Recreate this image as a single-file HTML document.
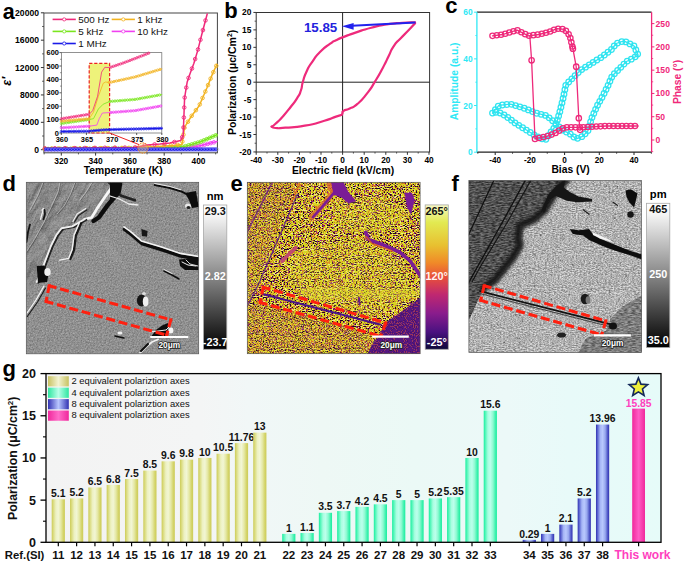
<!DOCTYPE html>
<html><head><meta charset="utf-8"><style>
html,body{margin:0;padding:0;background:#fff;}
body{width:685px;height:563px;overflow:hidden;position:relative;}
svg{position:absolute;left:0;top:0;font-family:"Liberation Sans", sans-serif;}
text{font-family:"Liberation Sans", sans-serif;}
</style></head><body>
<svg width="685" height="563" viewBox="0 0 685 563" font-family="Liberation Sans, sans-serif">

<defs>
<linearGradient id="gOl" x1="0" x2="1"><stop offset="0" stop-color="#cccb58"/><stop offset="0.12" stop-color="#dadb7e"/><stop offset="0.32" stop-color="#edf1c2"/><stop offset="0.5" stop-color="#f2f6d4"/><stop offset="0.7" stop-color="#e5e8a6"/><stop offset="0.88" stop-color="#d4d46a"/><stop offset="1" stop-color="#cccb58"/></linearGradient>
<linearGradient id="gMi" x1="0" x2="1"><stop offset="0" stop-color="#18ee9e"/><stop offset="0.12" stop-color="#50f6b8"/><stop offset="0.32" stop-color="#a8fee0"/><stop offset="0.5" stop-color="#bcffec"/><stop offset="0.7" stop-color="#90fad2"/><stop offset="0.88" stop-color="#40f2b0"/><stop offset="1" stop-color="#18ee9e"/></linearGradient>
<linearGradient id="gBl" x1="0" x2="1"><stop offset="0" stop-color="#3030b0"/><stop offset="0.12" stop-color="#5a64d0"/><stop offset="0.32" stop-color="#a6b6f6"/><stop offset="0.5" stop-color="#b8c8fe"/><stop offset="0.7" stop-color="#98a8ee"/><stop offset="0.88" stop-color="#5058c8"/><stop offset="1" stop-color="#3030b0"/></linearGradient>
<linearGradient id="gPk" x1="0" x2="1"><stop offset="0" stop-color="#f0289c"/><stop offset="0.5" stop-color="#ff5cc4"/><stop offset="1" stop-color="#f0289c"/></linearGradient>
<linearGradient id="gOlL" x1="0" x2="1"><stop offset="0" stop-color="#c8c262"/><stop offset="0.5" stop-color="#f3f3d2"/><stop offset="1" stop-color="#c8c262"/></linearGradient>
<linearGradient id="gMiL" x1="0" x2="1"><stop offset="0" stop-color="#2ee6a0"/><stop offset="0.5" stop-color="#b8ffe8"/><stop offset="1" stop-color="#2ee6a0"/></linearGradient>
<linearGradient id="gBlL" x1="0" x2="1"><stop offset="0" stop-color="#3232b2"/><stop offset="0.5" stop-color="#b8c6ff"/><stop offset="1" stop-color="#3232b2"/></linearGradient>
<linearGradient id="gPkL" x1="0" x2="1"><stop offset="0" stop-color="#f0289c"/><stop offset="0.5" stop-color="#ff6cc8"/><stop offset="1" stop-color="#f0289c"/></linearGradient>
<linearGradient id="gbg" gradientUnits="userSpaceOnUse" x1="46" x2="661" y1="0" y2="0"><stop offset="0" stop-color="#f3f3f3"/><stop offset="0.25" stop-color="#f4f5f5"/><stop offset="0.33" stop-color="#f1f7f7"/><stop offset="0.45" stop-color="#eef8f5"/><stop offset="0.6" stop-color="#ebf9f6"/><stop offset="0.75" stop-color="#ecf9f8"/><stop offset="0.85" stop-color="#e8faf9"/><stop offset="1" stop-color="#e6fbf9"/></linearGradient>
<filter id="relief" x="0" y="0" width="100%" height="100%" color-interpolation-filters="sRGB">
 <feTurbulence type="fractalNoise" baseFrequency="0.75" numOctaves="2" seed="7" result="t"/>
 <feColorMatrix type="matrix" values="0 0 0 0 0  0 0 0 0 0  0 0 0 0 0  0 0 0 0 1" result="blk"/>
 <feDiffuseLighting in="t" surfaceScale="0.9" diffuseConstant="1" lighting-color="#fff" result="l"><feDistantLight azimuth="225" elevation="60"/></feDiffuseLighting>
 <feColorMatrix in="t" type="matrix" values="1 0 0 0 0  1 0 0 0 0  1 0 0 0 0  0 0 0 0 1" result="g"/>
 <feComposite in="l" in2="g" operator="arithmetic" k1="0" k2="0.55" k3="0.38" k4="0.07"/>
 <feComponentTransfer><feFuncR type="linear" slope="0.77" intercept="0"/><feFuncG type="linear" slope="0.77" intercept="0"/><feFuncB type="linear" slope="0.77" intercept="0"/><feFuncA type="linear" slope="0" intercept="1"/></feComponentTransfer>
</filter>
<filter id="relief2" x="0" y="0" width="100%" height="100%" color-interpolation-filters="sRGB">
 <feTurbulence type="fractalNoise" baseFrequency="0.04 0.16" numOctaves="5" seed="11" result="t"/>
 <feDiffuseLighting in="t" surfaceScale="5" diffuseConstant="1" lighting-color="#fff"><feDistantLight azimuth="160" elevation="50"/></feDiffuseLighting>
 <feComponentTransfer><feFuncR type="linear" slope="0.72" intercept="0.0"/><feFuncG type="linear" slope="0.72" intercept="0.0"/><feFuncB type="linear" slope="0.72" intercept="0.0"/></feComponentTransfer>
</filter>
<filter id="speck" x="0" y="0" width="100%" height="100%" color-interpolation-filters="sRGB">
 <feTurbulence type="fractalNoise" baseFrequency="0.62 1.13" numOctaves="1" seed="2" result="t"/>
 <feColorMatrix type="matrix" values="3 0 0 0 -1  3 0 0 0 -1  3 0 0 0 -1  0 0 0 0 1"/>
 <feComponentTransfer>
  <feFuncR type="discrete" tableValues="0.12 0.45 0.55 0.86 0.7 0.84 0.85 0.86 0.88 0.95"/>
  <feFuncG type="discrete" tableValues="0.02 0.1 0.16 0.45 0.6 0.82 0.84 0.85 0.87 0.92"/>
  <feFuncB type="discrete" tableValues="0.15 0.2 0.5 0.15 0.12 0.12 0.12 0.14 0.22 0.55"/>
 </feComponentTransfer>
</filter>
<filter id="speck3" x="0" y="0" width="100%" height="100%" color-interpolation-filters="sRGB">
 <feTurbulence type="fractalNoise" baseFrequency="0.71 1.07" numOctaves="1" seed="21" result="t"/>
 <feColorMatrix type="matrix" values="3 0 0 0 -1  3 0 0 0 -1  3 0 0 0 -1  0 0 0 0 1"/>
 <feComponentTransfer>
  <feFuncR type="discrete" tableValues="0.1 0.4 0.55 0.9 0.88 0.85 0.86 0.9"/>
  <feFuncG type="discrete" tableValues="0.02 0.08 0.15 0.5 0.7 0.84 0.85 0.9"/>
  <feFuncB type="discrete" tableValues="0.12 0.25 0.5 0.15 0.12 0.12 0.14 0.4"/>
 </feComponentTransfer>
</filter>
<filter id="blur2" x="-20%" y="-20%" width="140%" height="140%"><feGaussianBlur stdDeviation="1.8"/></filter>
<filter id="blur05" x="-5%" y="-5%" width="110%" height="110%"><feGaussianBlur stdDeviation="0.45"/></filter>
<filter id="blur1" x="-20%" y="-20%" width="140%" height="140%"><feGaussianBlur stdDeviation="0.7"/></filter>
<filter id="speck2" x="0" y="0" width="100%" height="100%" color-interpolation-filters="sRGB">
 <feTurbulence type="fractalNoise" baseFrequency="0.9" numOctaves="1" seed="9" result="t"/>
 <feColorMatrix type="matrix" values="3 0 0 0 -1  3 0 0 0 -1  3 0 0 0 -1  0 0 0 0 1"/>
 <feComponentTransfer>
  <feFuncR type="discrete" tableValues="0.2 0.3 0.35 0.9"/>
  <feFuncG type="discrete" tableValues="0.05 0.08 0.1 0.35"/>
  <feFuncB type="discrete" tableValues="0.35 0.5 0.5 0.2"/>
 </feComponentTransfer>
</filter>
<filter id="grain2" x="0" y="0" width="100%" height="100%" color-interpolation-filters="sRGB">
 <feTurbulence type="fractalNoise" baseFrequency="0.55 0.95" numOctaves="2" seed="15" result="t"/>
 <feColorMatrix type="matrix" values="2 0 0 0 -0.5  2 0 0 0 -0.5  2 0 0 0 -0.5  0 0 0 0 1"/>
</filter>
<filter id="grain" x="0" y="0" width="100%" height="100%" color-interpolation-filters="sRGB">
 <feTurbulence type="fractalNoise" baseFrequency="0.25 0.9" numOctaves="2" seed="5" result="t"/>
 <feColorMatrix type="matrix" values="2 0 0 0 -0.5  2 0 0 0 -0.5  2 0 0 0 -0.5  0 0 0 0 1"/>
</filter>
<linearGradient id="cbD" x1="0" x2="0" y1="0" y2="1"><stop offset="0" stop-color="#fff"/><stop offset="0.08" stop-color="#f4f4f4"/><stop offset="0.5" stop-color="#868686"/><stop offset="1" stop-color="#000"/></linearGradient>
<linearGradient id="cbF" x1="0" x2="0" y1="0" y2="1"><stop offset="0" stop-color="#fff"/><stop offset="0.08" stop-color="#f4f4f4"/><stop offset="0.5" stop-color="#868686"/><stop offset="1" stop-color="#000"/></linearGradient>
<linearGradient id="cbE" x1="0" x2="0" y1="0" y2="1"><stop offset="0" stop-color="#f6f8c4"/><stop offset="0.12" stop-color="#e2ea52"/><stop offset="0.28" stop-color="#e8c030"/><stop offset="0.4" stop-color="#f08a28"/><stop offset="0.5" stop-color="#e8503a"/><stop offset="0.62" stop-color="#c02870"/><stop offset="0.75" stop-color="#8a1c8c"/><stop offset="0.88" stop-color="#4a1280"/><stop offset="1" stop-color="#0c0838"/></linearGradient>
</defs>

<rect x="43.9" y="13.0" width="173.5" height="139.8" fill="#fff" stroke="#444" stroke-width="1"/>
<line x1="40.90" y1="149.70" x2="43.90" y2="149.70" stroke="#333" stroke-width="1" />
<text x="39.00" y="152.70" font-size="8.6" text-anchor="end" font-weight="bold" fill="#000" >0</text>
<line x1="40.90" y1="122.32" x2="43.90" y2="122.32" stroke="#333" stroke-width="1" />
<text x="39.00" y="125.32" font-size="8.6" text-anchor="end" font-weight="bold" fill="#000" >4000</text>
<line x1="40.90" y1="94.94" x2="43.90" y2="94.94" stroke="#333" stroke-width="1" />
<text x="39.00" y="97.94" font-size="8.6" text-anchor="end" font-weight="bold" fill="#000" >8000</text>
<line x1="40.90" y1="67.56" x2="43.90" y2="67.56" stroke="#333" stroke-width="1" />
<text x="39.00" y="70.56" font-size="8.6" text-anchor="end" font-weight="bold" fill="#000" >12000</text>
<line x1="40.90" y1="40.18" x2="43.90" y2="40.18" stroke="#333" stroke-width="1" />
<text x="39.00" y="43.18" font-size="8.6" text-anchor="end" font-weight="bold" fill="#000" >16000</text>
<line x1="40.90" y1="12.80" x2="43.90" y2="12.80" stroke="#333" stroke-width="1" />
<text x="39.00" y="15.80" font-size="8.6" text-anchor="end" font-weight="bold" fill="#000" >20000</text>
<line x1="42.10" y1="136.01" x2="43.90" y2="136.01" stroke="#333" stroke-width="0.8" />
<line x1="42.10" y1="108.63" x2="43.90" y2="108.63" stroke="#333" stroke-width="0.8" />
<line x1="42.10" y1="81.25" x2="43.90" y2="81.25" stroke="#333" stroke-width="0.8" />
<line x1="42.10" y1="53.87" x2="43.90" y2="53.87" stroke="#333" stroke-width="0.8" />
<line x1="42.10" y1="26.49" x2="43.90" y2="26.49" stroke="#333" stroke-width="0.8" />
<line x1="61.30" y1="152.80" x2="61.30" y2="155.60" stroke="#333" stroke-width="1" />
<text x="61.30" y="164.00" font-size="8.4" text-anchor="middle" font-weight="bold" fill="#000" >320</text>
<line x1="95.60" y1="152.80" x2="95.60" y2="155.60" stroke="#333" stroke-width="1" />
<text x="95.60" y="164.00" font-size="8.4" text-anchor="middle" font-weight="bold" fill="#000" >340</text>
<line x1="129.90" y1="152.80" x2="129.90" y2="155.60" stroke="#333" stroke-width="1" />
<text x="129.90" y="164.00" font-size="8.4" text-anchor="middle" font-weight="bold" fill="#000" >360</text>
<line x1="164.20" y1="152.80" x2="164.20" y2="155.60" stroke="#333" stroke-width="1" />
<text x="164.20" y="164.00" font-size="8.4" text-anchor="middle" font-weight="bold" fill="#000" >380</text>
<line x1="198.50" y1="152.80" x2="198.50" y2="155.60" stroke="#333" stroke-width="1" />
<text x="198.50" y="164.00" font-size="8.4" text-anchor="middle" font-weight="bold" fill="#000" >400</text>
<line x1="44.15" y1="152.80" x2="44.15" y2="154.40" stroke="#333" stroke-width="0.8" />
<line x1="78.45" y1="152.80" x2="78.45" y2="154.40" stroke="#333" stroke-width="0.8" />
<line x1="112.75" y1="152.80" x2="112.75" y2="154.40" stroke="#333" stroke-width="0.8" />
<line x1="147.05" y1="152.80" x2="147.05" y2="154.40" stroke="#333" stroke-width="0.8" />
<line x1="181.35" y1="152.80" x2="181.35" y2="154.40" stroke="#333" stroke-width="0.8" />
<line x1="215.65" y1="152.80" x2="215.65" y2="154.40" stroke="#333" stroke-width="0.8" />
<text x="123.20" y="173.80" font-size="10.3" text-anchor="middle" font-weight="bold" fill="#000" >Temperature (K)</text>
<text transform="translate(11.20,81.30) rotate(-90)" font-size="12.5" font-weight="bold" text-anchor="middle" fill="#000" font-style="italic">ε′</text>
<polyline points="44.90,149.20 150.00,148.80 185.00,148.00 200.00,145.80 216.90,141.60" fill="none" stroke="#f040f0" stroke-width="1.5" stroke-linejoin="round" stroke-linecap="round" />
<circle cx="44.90" cy="149.20" r="1.8" fill="none" stroke="#f040f0" stroke-width="0.9"/>
<circle cx="48.10" cy="149.19" r="1.8" fill="none" stroke="#f040f0" stroke-width="0.9"/>
<circle cx="51.30" cy="149.18" r="1.8" fill="none" stroke="#f040f0" stroke-width="0.9"/>
<circle cx="54.50" cy="149.16" r="1.8" fill="none" stroke="#f040f0" stroke-width="0.9"/>
<circle cx="57.70" cy="149.15" r="1.8" fill="none" stroke="#f040f0" stroke-width="0.9"/>
<circle cx="60.90" cy="149.14" r="1.8" fill="none" stroke="#f040f0" stroke-width="0.9"/>
<circle cx="64.10" cy="149.13" r="1.8" fill="none" stroke="#f040f0" stroke-width="0.9"/>
<circle cx="67.30" cy="149.11" r="1.8" fill="none" stroke="#f040f0" stroke-width="0.9"/>
<circle cx="70.50" cy="149.10" r="1.8" fill="none" stroke="#f040f0" stroke-width="0.9"/>
<circle cx="73.70" cy="149.09" r="1.8" fill="none" stroke="#f040f0" stroke-width="0.9"/>
<circle cx="76.90" cy="149.08" r="1.8" fill="none" stroke="#f040f0" stroke-width="0.9"/>
<circle cx="80.10" cy="149.07" r="1.8" fill="none" stroke="#f040f0" stroke-width="0.9"/>
<circle cx="83.30" cy="149.05" r="1.8" fill="none" stroke="#f040f0" stroke-width="0.9"/>
<circle cx="86.50" cy="149.04" r="1.8" fill="none" stroke="#f040f0" stroke-width="0.9"/>
<circle cx="89.70" cy="149.03" r="1.8" fill="none" stroke="#f040f0" stroke-width="0.9"/>
<circle cx="92.90" cy="149.02" r="1.8" fill="none" stroke="#f040f0" stroke-width="0.9"/>
<circle cx="96.10" cy="149.01" r="1.8" fill="none" stroke="#f040f0" stroke-width="0.9"/>
<circle cx="99.30" cy="148.99" r="1.8" fill="none" stroke="#f040f0" stroke-width="0.9"/>
<circle cx="102.50" cy="148.98" r="1.8" fill="none" stroke="#f040f0" stroke-width="0.9"/>
<circle cx="105.70" cy="148.97" r="1.8" fill="none" stroke="#f040f0" stroke-width="0.9"/>
<circle cx="108.90" cy="148.96" r="1.8" fill="none" stroke="#f040f0" stroke-width="0.9"/>
<circle cx="112.10" cy="148.94" r="1.8" fill="none" stroke="#f040f0" stroke-width="0.9"/>
<circle cx="115.30" cy="148.93" r="1.8" fill="none" stroke="#f040f0" stroke-width="0.9"/>
<circle cx="118.50" cy="148.92" r="1.8" fill="none" stroke="#f040f0" stroke-width="0.9"/>
<circle cx="121.70" cy="148.91" r="1.8" fill="none" stroke="#f040f0" stroke-width="0.9"/>
<circle cx="124.90" cy="148.90" r="1.8" fill="none" stroke="#f040f0" stroke-width="0.9"/>
<circle cx="128.10" cy="148.88" r="1.8" fill="none" stroke="#f040f0" stroke-width="0.9"/>
<circle cx="131.30" cy="148.87" r="1.8" fill="none" stroke="#f040f0" stroke-width="0.9"/>
<circle cx="134.50" cy="148.86" r="1.8" fill="none" stroke="#f040f0" stroke-width="0.9"/>
<circle cx="137.70" cy="148.85" r="1.8" fill="none" stroke="#f040f0" stroke-width="0.9"/>
<circle cx="140.90" cy="148.83" r="1.8" fill="none" stroke="#f040f0" stroke-width="0.9"/>
<circle cx="144.10" cy="148.82" r="1.8" fill="none" stroke="#f040f0" stroke-width="0.9"/>
<circle cx="147.30" cy="148.81" r="1.8" fill="none" stroke="#f040f0" stroke-width="0.9"/>
<circle cx="150.50" cy="148.79" r="1.8" fill="none" stroke="#f040f0" stroke-width="0.9"/>
<circle cx="153.70" cy="148.72" r="1.8" fill="none" stroke="#f040f0" stroke-width="0.9"/>
<circle cx="156.90" cy="148.64" r="1.8" fill="none" stroke="#f040f0" stroke-width="0.9"/>
<circle cx="160.10" cy="148.57" r="1.8" fill="none" stroke="#f040f0" stroke-width="0.9"/>
<circle cx="163.30" cy="148.50" r="1.8" fill="none" stroke="#f040f0" stroke-width="0.9"/>
<circle cx="166.49" cy="148.42" r="1.8" fill="none" stroke="#f040f0" stroke-width="0.9"/>
<circle cx="169.69" cy="148.35" r="1.8" fill="none" stroke="#f040f0" stroke-width="0.9"/>
<circle cx="172.89" cy="148.28" r="1.8" fill="none" stroke="#f040f0" stroke-width="0.9"/>
<circle cx="176.09" cy="148.20" r="1.8" fill="none" stroke="#f040f0" stroke-width="0.9"/>
<circle cx="179.29" cy="148.13" r="1.8" fill="none" stroke="#f040f0" stroke-width="0.9"/>
<circle cx="182.49" cy="148.06" r="1.8" fill="none" stroke="#f040f0" stroke-width="0.9"/>
<circle cx="185.68" cy="147.90" r="1.8" fill="none" stroke="#f040f0" stroke-width="0.9"/>
<circle cx="188.85" cy="147.44" r="1.8" fill="none" stroke="#f040f0" stroke-width="0.9"/>
<circle cx="192.02" cy="146.97" r="1.8" fill="none" stroke="#f040f0" stroke-width="0.9"/>
<circle cx="195.18" cy="146.51" r="1.8" fill="none" stroke="#f040f0" stroke-width="0.9"/>
<circle cx="198.35" cy="146.04" r="1.8" fill="none" stroke="#f040f0" stroke-width="0.9"/>
<circle cx="201.48" cy="145.43" r="1.8" fill="none" stroke="#f040f0" stroke-width="0.9"/>
<circle cx="204.59" cy="144.66" r="1.8" fill="none" stroke="#f040f0" stroke-width="0.9"/>
<circle cx="207.70" cy="143.89" r="1.8" fill="none" stroke="#f040f0" stroke-width="0.9"/>
<circle cx="210.80" cy="143.12" r="1.8" fill="none" stroke="#f040f0" stroke-width="0.9"/>
<circle cx="213.91" cy="142.34" r="1.8" fill="none" stroke="#f040f0" stroke-width="0.9"/>
<polyline points="44.90,149.00 150.00,148.50 184.00,146.60 200.00,142.00 216.90,134.80" fill="none" stroke="#7ae61e" stroke-width="1.5" stroke-linejoin="round" stroke-linecap="round" />
<circle cx="44.90" cy="149.00" r="1.8" fill="none" stroke="#7ae61e" stroke-width="0.9"/>
<circle cx="48.10" cy="148.98" r="1.8" fill="none" stroke="#7ae61e" stroke-width="0.9"/>
<circle cx="51.30" cy="148.97" r="1.8" fill="none" stroke="#7ae61e" stroke-width="0.9"/>
<circle cx="54.50" cy="148.95" r="1.8" fill="none" stroke="#7ae61e" stroke-width="0.9"/>
<circle cx="57.70" cy="148.94" r="1.8" fill="none" stroke="#7ae61e" stroke-width="0.9"/>
<circle cx="60.90" cy="148.92" r="1.8" fill="none" stroke="#7ae61e" stroke-width="0.9"/>
<circle cx="64.10" cy="148.91" r="1.8" fill="none" stroke="#7ae61e" stroke-width="0.9"/>
<circle cx="67.30" cy="148.89" r="1.8" fill="none" stroke="#7ae61e" stroke-width="0.9"/>
<circle cx="70.50" cy="148.88" r="1.8" fill="none" stroke="#7ae61e" stroke-width="0.9"/>
<circle cx="73.70" cy="148.86" r="1.8" fill="none" stroke="#7ae61e" stroke-width="0.9"/>
<circle cx="76.90" cy="148.85" r="1.8" fill="none" stroke="#7ae61e" stroke-width="0.9"/>
<circle cx="80.10" cy="148.83" r="1.8" fill="none" stroke="#7ae61e" stroke-width="0.9"/>
<circle cx="83.30" cy="148.82" r="1.8" fill="none" stroke="#7ae61e" stroke-width="0.9"/>
<circle cx="86.50" cy="148.80" r="1.8" fill="none" stroke="#7ae61e" stroke-width="0.9"/>
<circle cx="89.70" cy="148.79" r="1.8" fill="none" stroke="#7ae61e" stroke-width="0.9"/>
<circle cx="92.90" cy="148.77" r="1.8" fill="none" stroke="#7ae61e" stroke-width="0.9"/>
<circle cx="96.10" cy="148.76" r="1.8" fill="none" stroke="#7ae61e" stroke-width="0.9"/>
<circle cx="99.30" cy="148.74" r="1.8" fill="none" stroke="#7ae61e" stroke-width="0.9"/>
<circle cx="102.50" cy="148.73" r="1.8" fill="none" stroke="#7ae61e" stroke-width="0.9"/>
<circle cx="105.70" cy="148.71" r="1.8" fill="none" stroke="#7ae61e" stroke-width="0.9"/>
<circle cx="108.90" cy="148.70" r="1.8" fill="none" stroke="#7ae61e" stroke-width="0.9"/>
<circle cx="112.10" cy="148.68" r="1.8" fill="none" stroke="#7ae61e" stroke-width="0.9"/>
<circle cx="115.30" cy="148.67" r="1.8" fill="none" stroke="#7ae61e" stroke-width="0.9"/>
<circle cx="118.50" cy="148.65" r="1.8" fill="none" stroke="#7ae61e" stroke-width="0.9"/>
<circle cx="121.70" cy="148.63" r="1.8" fill="none" stroke="#7ae61e" stroke-width="0.9"/>
<circle cx="124.90" cy="148.62" r="1.8" fill="none" stroke="#7ae61e" stroke-width="0.9"/>
<circle cx="128.10" cy="148.60" r="1.8" fill="none" stroke="#7ae61e" stroke-width="0.9"/>
<circle cx="131.30" cy="148.59" r="1.8" fill="none" stroke="#7ae61e" stroke-width="0.9"/>
<circle cx="134.50" cy="148.57" r="1.8" fill="none" stroke="#7ae61e" stroke-width="0.9"/>
<circle cx="137.70" cy="148.56" r="1.8" fill="none" stroke="#7ae61e" stroke-width="0.9"/>
<circle cx="140.90" cy="148.54" r="1.8" fill="none" stroke="#7ae61e" stroke-width="0.9"/>
<circle cx="144.10" cy="148.53" r="1.8" fill="none" stroke="#7ae61e" stroke-width="0.9"/>
<circle cx="147.30" cy="148.51" r="1.8" fill="none" stroke="#7ae61e" stroke-width="0.9"/>
<circle cx="150.50" cy="148.47" r="1.8" fill="none" stroke="#7ae61e" stroke-width="0.9"/>
<circle cx="153.69" cy="148.29" r="1.8" fill="none" stroke="#7ae61e" stroke-width="0.9"/>
<circle cx="156.89" cy="148.12" r="1.8" fill="none" stroke="#7ae61e" stroke-width="0.9"/>
<circle cx="160.08" cy="147.94" r="1.8" fill="none" stroke="#7ae61e" stroke-width="0.9"/>
<circle cx="163.28" cy="147.76" r="1.8" fill="none" stroke="#7ae61e" stroke-width="0.9"/>
<circle cx="166.47" cy="147.58" r="1.8" fill="none" stroke="#7ae61e" stroke-width="0.9"/>
<circle cx="169.67" cy="147.40" r="1.8" fill="none" stroke="#7ae61e" stroke-width="0.9"/>
<circle cx="172.86" cy="147.22" r="1.8" fill="none" stroke="#7ae61e" stroke-width="0.9"/>
<circle cx="176.06" cy="147.04" r="1.8" fill="none" stroke="#7ae61e" stroke-width="0.9"/>
<circle cx="179.25" cy="146.87" r="1.8" fill="none" stroke="#7ae61e" stroke-width="0.9"/>
<circle cx="182.45" cy="146.69" r="1.8" fill="none" stroke="#7ae61e" stroke-width="0.9"/>
<circle cx="185.58" cy="146.15" r="1.8" fill="none" stroke="#7ae61e" stroke-width="0.9"/>
<circle cx="188.66" cy="145.26" r="1.8" fill="none" stroke="#7ae61e" stroke-width="0.9"/>
<circle cx="191.73" cy="144.38" r="1.8" fill="none" stroke="#7ae61e" stroke-width="0.9"/>
<circle cx="194.81" cy="143.49" r="1.8" fill="none" stroke="#7ae61e" stroke-width="0.9"/>
<circle cx="197.88" cy="142.61" r="1.8" fill="none" stroke="#7ae61e" stroke-width="0.9"/>
<circle cx="200.92" cy="141.61" r="1.8" fill="none" stroke="#7ae61e" stroke-width="0.9"/>
<circle cx="203.86" cy="140.35" r="1.8" fill="none" stroke="#7ae61e" stroke-width="0.9"/>
<circle cx="206.81" cy="139.10" r="1.8" fill="none" stroke="#7ae61e" stroke-width="0.9"/>
<circle cx="209.75" cy="137.85" r="1.8" fill="none" stroke="#7ae61e" stroke-width="0.9"/>
<circle cx="212.69" cy="136.59" r="1.8" fill="none" stroke="#7ae61e" stroke-width="0.9"/>
<circle cx="215.64" cy="135.34" r="1.8" fill="none" stroke="#7ae61e" stroke-width="0.9"/>
<polyline points="44.90,148.60 140.00,147.80 160.00,146.40 175.00,145.20 181.90,144.40 184.60,127.10 191.20,116.50 199.20,105.80 207.20,87.20 212.50,73.90 216.90,64.50" fill="none" stroke="#f2b320" stroke-width="1.5" stroke-linejoin="round" stroke-linecap="round" />
<circle cx="44.90" cy="148.60" r="1.8" fill="none" stroke="#f2b320" stroke-width="0.9"/>
<circle cx="51.90" cy="148.54" r="1.8" fill="none" stroke="#f2b320" stroke-width="0.9"/>
<circle cx="58.90" cy="148.48" r="1.8" fill="none" stroke="#f2b320" stroke-width="0.9"/>
<circle cx="65.90" cy="148.42" r="1.8" fill="none" stroke="#f2b320" stroke-width="0.9"/>
<circle cx="72.90" cy="148.36" r="1.8" fill="none" stroke="#f2b320" stroke-width="0.9"/>
<circle cx="79.90" cy="148.31" r="1.8" fill="none" stroke="#f2b320" stroke-width="0.9"/>
<circle cx="86.90" cy="148.25" r="1.8" fill="none" stroke="#f2b320" stroke-width="0.9"/>
<circle cx="93.90" cy="148.19" r="1.8" fill="none" stroke="#f2b320" stroke-width="0.9"/>
<circle cx="100.90" cy="148.13" r="1.8" fill="none" stroke="#f2b320" stroke-width="0.9"/>
<circle cx="107.90" cy="148.07" r="1.8" fill="none" stroke="#f2b320" stroke-width="0.9"/>
<circle cx="114.90" cy="148.01" r="1.8" fill="none" stroke="#f2b320" stroke-width="0.9"/>
<circle cx="121.90" cy="147.95" r="1.8" fill="none" stroke="#f2b320" stroke-width="0.9"/>
<circle cx="128.90" cy="147.89" r="1.8" fill="none" stroke="#f2b320" stroke-width="0.9"/>
<circle cx="135.90" cy="147.83" r="1.8" fill="none" stroke="#f2b320" stroke-width="0.9"/>
<circle cx="142.89" cy="147.60" r="1.8" fill="none" stroke="#f2b320" stroke-width="0.9"/>
<circle cx="149.87" cy="147.11" r="1.8" fill="none" stroke="#f2b320" stroke-width="0.9"/>
<circle cx="156.86" cy="146.62" r="1.8" fill="none" stroke="#f2b320" stroke-width="0.9"/>
<circle cx="163.84" cy="146.09" r="1.8" fill="none" stroke="#f2b320" stroke-width="0.9"/>
<circle cx="170.81" cy="145.53" r="1.8" fill="none" stroke="#f2b320" stroke-width="0.9"/>
<circle cx="177.78" cy="144.88" r="1.8" fill="none" stroke="#f2b320" stroke-width="0.9"/>
<circle cx="182.34" cy="141.58" r="1.8" fill="none" stroke="#f2b320" stroke-width="0.9"/>
<circle cx="183.42" cy="134.66" r="1.8" fill="none" stroke="#f2b320" stroke-width="0.9"/>
<circle cx="184.50" cy="127.75" r="1.8" fill="none" stroke="#f2b320" stroke-width="0.9"/>
<circle cx="187.95" cy="121.71" r="1.8" fill="none" stroke="#f2b320" stroke-width="0.9"/>
<circle cx="191.71" cy="115.81" r="1.8" fill="none" stroke="#f2b320" stroke-width="0.9"/>
<circle cx="195.90" cy="110.21" r="1.8" fill="none" stroke="#f2b320" stroke-width="0.9"/>
<circle cx="199.79" cy="104.42" r="1.8" fill="none" stroke="#f2b320" stroke-width="0.9"/>
<circle cx="202.56" cy="97.99" r="1.8" fill="none" stroke="#f2b320" stroke-width="0.9"/>
<circle cx="205.32" cy="91.56" r="1.8" fill="none" stroke="#f2b320" stroke-width="0.9"/>
<circle cx="208.03" cy="85.11" r="1.8" fill="none" stroke="#f2b320" stroke-width="0.9"/>
<circle cx="210.62" cy="78.61" r="1.8" fill="none" stroke="#f2b320" stroke-width="0.9"/>
<circle cx="213.32" cy="72.15" r="1.8" fill="none" stroke="#f2b320" stroke-width="0.9"/>
<circle cx="216.29" cy="65.81" r="1.8" fill="none" stroke="#f2b320" stroke-width="0.9"/>
<polyline points="44.90,148.40 135.00,147.50 147.00,144.90 160.00,144.10 170.00,143.10 180.60,140.50 183.20,135.10 184.60,97.90 187.20,81.90 189.90,73.90 193.90,63.20 197.90,49.90 201.90,34.00 207.20,14.00" fill="none" stroke="#f0287a" stroke-width="1.5" stroke-linejoin="round" stroke-linecap="round" />
<circle cx="44.90" cy="148.40" r="1.8" fill="none" stroke="#f0287a" stroke-width="0.9"/>
<circle cx="54.90" cy="148.30" r="1.8" fill="none" stroke="#f0287a" stroke-width="0.9"/>
<circle cx="64.90" cy="148.20" r="1.8" fill="none" stroke="#f0287a" stroke-width="0.9"/>
<circle cx="74.90" cy="148.10" r="1.8" fill="none" stroke="#f0287a" stroke-width="0.9"/>
<circle cx="84.90" cy="148.00" r="1.8" fill="none" stroke="#f0287a" stroke-width="0.9"/>
<circle cx="94.90" cy="147.90" r="1.8" fill="none" stroke="#f0287a" stroke-width="0.9"/>
<circle cx="104.90" cy="147.80" r="1.8" fill="none" stroke="#f0287a" stroke-width="0.9"/>
<circle cx="114.90" cy="147.70" r="1.8" fill="none" stroke="#f0287a" stroke-width="0.9"/>
<circle cx="124.90" cy="147.60" r="1.8" fill="none" stroke="#f0287a" stroke-width="0.9"/>
<circle cx="134.90" cy="147.50" r="1.8" fill="none" stroke="#f0287a" stroke-width="0.9"/>
<circle cx="144.67" cy="145.40" r="1.8" fill="none" stroke="#f0287a" stroke-width="0.9"/>
<circle cx="154.60" cy="144.43" r="1.8" fill="none" stroke="#f0287a" stroke-width="0.9"/>
<circle cx="164.57" cy="143.64" r="1.8" fill="none" stroke="#f0287a" stroke-width="0.9"/>
<circle cx="174.41" cy="142.02" r="1.8" fill="none" stroke="#f0287a" stroke-width="0.9"/>
<circle cx="182.17" cy="137.23" r="1.8" fill="none" stroke="#f0287a" stroke-width="0.9"/>
<circle cx="183.49" cy="127.47" r="1.8" fill="none" stroke="#f0287a" stroke-width="0.9"/>
<circle cx="183.86" cy="117.48" r="1.8" fill="none" stroke="#f0287a" stroke-width="0.9"/>
<circle cx="184.24" cy="107.48" r="1.8" fill="none" stroke="#f0287a" stroke-width="0.9"/>
<circle cx="184.67" cy="97.50" r="1.8" fill="none" stroke="#f0287a" stroke-width="0.9"/>
<circle cx="186.27" cy="87.63" r="1.8" fill="none" stroke="#f0287a" stroke-width="0.9"/>
<circle cx="188.54" cy="77.92" r="1.8" fill="none" stroke="#f0287a" stroke-width="0.9"/>
<circle cx="191.92" cy="68.51" r="1.8" fill="none" stroke="#f0287a" stroke-width="0.9"/>
<circle cx="195.15" cy="59.05" r="1.8" fill="none" stroke="#f0287a" stroke-width="0.9"/>
<circle cx="198.01" cy="49.47" r="1.8" fill="none" stroke="#f0287a" stroke-width="0.9"/>
<circle cx="200.45" cy="39.77" r="1.8" fill="none" stroke="#f0287a" stroke-width="0.9"/>
<circle cx="202.94" cy="30.09" r="1.8" fill="none" stroke="#f0287a" stroke-width="0.9"/>
<circle cx="205.50" cy="20.42" r="1.8" fill="none" stroke="#f0287a" stroke-width="0.9"/>
<rect x="44.4" y="147.5" width="172.5" height="3.8" fill="#1a1ae8"/>
<circle cx="46.4" cy="149.4" r="1.3" fill="none" stroke="#a0a0ff" stroke-width="0.5"/>
<circle cx="49.4" cy="149.4" r="1.3" fill="none" stroke="#a0a0ff" stroke-width="0.5"/>
<circle cx="52.3" cy="149.4" r="1.3" fill="none" stroke="#a0a0ff" stroke-width="0.5"/>
<circle cx="55.2" cy="149.4" r="1.3" fill="none" stroke="#a0a0ff" stroke-width="0.5"/>
<circle cx="58.2" cy="149.4" r="1.3" fill="none" stroke="#a0a0ff" stroke-width="0.5"/>
<circle cx="61.1" cy="149.4" r="1.3" fill="none" stroke="#a0a0ff" stroke-width="0.5"/>
<circle cx="64.1" cy="149.4" r="1.3" fill="none" stroke="#a0a0ff" stroke-width="0.5"/>
<circle cx="67.0" cy="149.4" r="1.3" fill="none" stroke="#a0a0ff" stroke-width="0.5"/>
<circle cx="70.0" cy="149.4" r="1.3" fill="none" stroke="#a0a0ff" stroke-width="0.5"/>
<circle cx="73.0" cy="149.4" r="1.3" fill="none" stroke="#a0a0ff" stroke-width="0.5"/>
<circle cx="75.9" cy="149.4" r="1.3" fill="none" stroke="#a0a0ff" stroke-width="0.5"/>
<circle cx="78.8" cy="149.4" r="1.3" fill="none" stroke="#a0a0ff" stroke-width="0.5"/>
<circle cx="81.8" cy="149.4" r="1.3" fill="none" stroke="#a0a0ff" stroke-width="0.5"/>
<circle cx="84.8" cy="149.4" r="1.3" fill="none" stroke="#a0a0ff" stroke-width="0.5"/>
<circle cx="87.7" cy="149.4" r="1.3" fill="none" stroke="#a0a0ff" stroke-width="0.5"/>
<circle cx="90.7" cy="149.4" r="1.3" fill="none" stroke="#a0a0ff" stroke-width="0.5"/>
<circle cx="93.6" cy="149.4" r="1.3" fill="none" stroke="#a0a0ff" stroke-width="0.5"/>
<circle cx="96.6" cy="149.4" r="1.3" fill="none" stroke="#a0a0ff" stroke-width="0.5"/>
<circle cx="99.5" cy="149.4" r="1.3" fill="none" stroke="#a0a0ff" stroke-width="0.5"/>
<circle cx="102.5" cy="149.4" r="1.3" fill="none" stroke="#a0a0ff" stroke-width="0.5"/>
<circle cx="105.4" cy="149.4" r="1.3" fill="none" stroke="#a0a0ff" stroke-width="0.5"/>
<circle cx="108.3" cy="149.4" r="1.3" fill="none" stroke="#a0a0ff" stroke-width="0.5"/>
<circle cx="111.3" cy="149.4" r="1.3" fill="none" stroke="#a0a0ff" stroke-width="0.5"/>
<circle cx="114.2" cy="149.4" r="1.3" fill="none" stroke="#a0a0ff" stroke-width="0.5"/>
<circle cx="117.2" cy="149.4" r="1.3" fill="none" stroke="#a0a0ff" stroke-width="0.5"/>
<circle cx="120.2" cy="149.4" r="1.3" fill="none" stroke="#a0a0ff" stroke-width="0.5"/>
<circle cx="123.1" cy="149.4" r="1.3" fill="none" stroke="#a0a0ff" stroke-width="0.5"/>
<circle cx="126.1" cy="149.4" r="1.3" fill="none" stroke="#a0a0ff" stroke-width="0.5"/>
<circle cx="129.0" cy="149.4" r="1.3" fill="none" stroke="#a0a0ff" stroke-width="0.5"/>
<circle cx="132.0" cy="149.4" r="1.3" fill="none" stroke="#a0a0ff" stroke-width="0.5"/>
<circle cx="134.9" cy="149.4" r="1.3" fill="none" stroke="#a0a0ff" stroke-width="0.5"/>
<circle cx="137.8" cy="149.4" r="1.3" fill="none" stroke="#a0a0ff" stroke-width="0.5"/>
<circle cx="140.8" cy="149.4" r="1.3" fill="none" stroke="#a0a0ff" stroke-width="0.5"/>
<circle cx="143.8" cy="149.4" r="1.3" fill="none" stroke="#a0a0ff" stroke-width="0.5"/>
<circle cx="146.7" cy="149.4" r="1.3" fill="none" stroke="#a0a0ff" stroke-width="0.5"/>
<circle cx="149.7" cy="149.4" r="1.3" fill="none" stroke="#a0a0ff" stroke-width="0.5"/>
<circle cx="152.6" cy="149.4" r="1.3" fill="none" stroke="#a0a0ff" stroke-width="0.5"/>
<circle cx="155.6" cy="149.4" r="1.3" fill="none" stroke="#a0a0ff" stroke-width="0.5"/>
<circle cx="158.5" cy="149.4" r="1.3" fill="none" stroke="#a0a0ff" stroke-width="0.5"/>
<circle cx="161.5" cy="149.4" r="1.3" fill="none" stroke="#a0a0ff" stroke-width="0.5"/>
<circle cx="164.4" cy="149.4" r="1.3" fill="none" stroke="#a0a0ff" stroke-width="0.5"/>
<circle cx="167.3" cy="149.4" r="1.3" fill="none" stroke="#a0a0ff" stroke-width="0.5"/>
<circle cx="170.3" cy="149.4" r="1.3" fill="none" stroke="#a0a0ff" stroke-width="0.5"/>
<circle cx="173.2" cy="149.4" r="1.3" fill="none" stroke="#a0a0ff" stroke-width="0.5"/>
<circle cx="176.2" cy="149.4" r="1.3" fill="none" stroke="#a0a0ff" stroke-width="0.5"/>
<circle cx="179.2" cy="149.4" r="1.3" fill="none" stroke="#a0a0ff" stroke-width="0.5"/>
<circle cx="182.1" cy="149.4" r="1.3" fill="none" stroke="#a0a0ff" stroke-width="0.5"/>
<circle cx="185.1" cy="149.4" r="1.3" fill="none" stroke="#a0a0ff" stroke-width="0.5"/>
<circle cx="188.0" cy="149.4" r="1.3" fill="none" stroke="#a0a0ff" stroke-width="0.5"/>
<circle cx="191.0" cy="149.4" r="1.3" fill="none" stroke="#a0a0ff" stroke-width="0.5"/>
<circle cx="193.9" cy="149.4" r="1.3" fill="none" stroke="#a0a0ff" stroke-width="0.5"/>
<circle cx="196.9" cy="149.4" r="1.3" fill="none" stroke="#a0a0ff" stroke-width="0.5"/>
<circle cx="199.8" cy="149.4" r="1.3" fill="none" stroke="#a0a0ff" stroke-width="0.5"/>
<circle cx="202.8" cy="149.4" r="1.3" fill="none" stroke="#a0a0ff" stroke-width="0.5"/>
<circle cx="205.7" cy="149.4" r="1.3" fill="none" stroke="#a0a0ff" stroke-width="0.5"/>
<circle cx="208.7" cy="149.4" r="1.3" fill="none" stroke="#a0a0ff" stroke-width="0.5"/>
<circle cx="211.6" cy="149.4" r="1.3" fill="none" stroke="#a0a0ff" stroke-width="0.5"/>
<circle cx="214.6" cy="149.4" r="1.3" fill="none" stroke="#a0a0ff" stroke-width="0.5"/>
<circle cx="217.5" cy="149.4" r="1.3" fill="none" stroke="#a0a0ff" stroke-width="0.5"/>
<circle cx="142.9" cy="148" r="5.2" fill="#f4e060" fill-opacity="0.35" stroke="#f08020" stroke-width="1" stroke-dasharray="1.6,1"/>
<line x1="52.60" y1="19.40" x2="75.80" y2="19.40" stroke="#f0287a" stroke-width="1.6" />
<circle cx="64.2" cy="19.4" r="1.6" fill="#fff" stroke="#f0287a" stroke-width="0.8"/>
<text x="78.20" y="22.90" font-size="9.9" text-anchor="start" font-weight="normal" fill="#111" >500 Hz</text>
<line x1="52.60" y1="31.40" x2="75.80" y2="31.40" stroke="#7ae61e" stroke-width="1.6" />
<circle cx="64.2" cy="31.4" r="1.6" fill="#fff" stroke="#7ae61e" stroke-width="0.8"/>
<text x="78.20" y="34.90" font-size="9.9" text-anchor="start" font-weight="normal" fill="#111" >5 kHz</text>
<line x1="52.60" y1="43.50" x2="75.80" y2="43.50" stroke="#1a1ae8" stroke-width="1.6" />
<circle cx="64.2" cy="43.5" r="1.6" fill="#fff" stroke="#1a1ae8" stroke-width="0.8"/>
<text x="78.20" y="47.00" font-size="9.9" text-anchor="start" font-weight="normal" fill="#111" >1 MHz</text>
<line x1="111.70" y1="19.40" x2="134.90" y2="19.40" stroke="#f2b320" stroke-width="1.6" />
<circle cx="123.3" cy="19.4" r="1.6" fill="#fff" stroke="#f2b320" stroke-width="0.8"/>
<text x="137.30" y="22.90" font-size="9.9" text-anchor="start" font-weight="normal" fill="#111" >1 kHz</text>
<line x1="111.70" y1="31.40" x2="134.90" y2="31.40" stroke="#f040f0" stroke-width="1.6" />
<circle cx="123.3" cy="31.4" r="1.6" fill="#fff" stroke="#f040f0" stroke-width="0.8"/>
<text x="137.30" y="34.90" font-size="9.9" text-anchor="start" font-weight="normal" fill="#111" >10 kHz</text>
<rect x="61.4" y="52.6" width="100.4" height="80.4" fill="#fff" stroke="#777" stroke-width="0.8"/>
<rect x="89.2" y="63.4" width="20.4" height="69.6" fill="#eef27a" stroke="#ee2222" stroke-width="1.2" stroke-dasharray="3.2,1.8"/>
<line x1="59.40" y1="133.00" x2="61.40" y2="133.00" stroke="#333" stroke-width="0.8" />
<text x="58.90" y="135.60" font-size="7.4" text-anchor="end" font-weight="bold" fill="#000" >0</text>
<line x1="59.40" y1="119.60" x2="61.40" y2="119.60" stroke="#333" stroke-width="0.8" />
<text x="58.90" y="122.20" font-size="7.4" text-anchor="end" font-weight="bold" fill="#000" >100</text>
<line x1="59.40" y1="106.20" x2="61.40" y2="106.20" stroke="#333" stroke-width="0.8" />
<text x="58.90" y="108.80" font-size="7.4" text-anchor="end" font-weight="bold" fill="#000" >200</text>
<line x1="59.40" y1="92.80" x2="61.40" y2="92.80" stroke="#333" stroke-width="0.8" />
<text x="58.90" y="95.40" font-size="7.4" text-anchor="end" font-weight="bold" fill="#000" >300</text>
<line x1="59.40" y1="79.40" x2="61.40" y2="79.40" stroke="#333" stroke-width="0.8" />
<text x="58.90" y="82.00" font-size="7.4" text-anchor="end" font-weight="bold" fill="#000" >400</text>
<line x1="59.40" y1="66.00" x2="61.40" y2="66.00" stroke="#333" stroke-width="0.8" />
<text x="58.90" y="68.60" font-size="7.4" text-anchor="end" font-weight="bold" fill="#000" >500</text>
<line x1="59.40" y1="52.60" x2="61.40" y2="52.60" stroke="#333" stroke-width="0.8" />
<text x="58.90" y="55.20" font-size="7.4" text-anchor="end" font-weight="bold" fill="#000" >600</text>
<line x1="60.20" y1="126.30" x2="61.40" y2="126.30" stroke="#333" stroke-width="0.6" />
<line x1="60.20" y1="112.90" x2="61.40" y2="112.90" stroke="#333" stroke-width="0.6" />
<line x1="60.20" y1="99.50" x2="61.40" y2="99.50" stroke="#333" stroke-width="0.6" />
<line x1="60.20" y1="86.10" x2="61.40" y2="86.10" stroke="#333" stroke-width="0.6" />
<line x1="60.20" y1="72.70" x2="61.40" y2="72.70" stroke="#333" stroke-width="0.6" />
<line x1="60.20" y1="59.30" x2="61.40" y2="59.30" stroke="#333" stroke-width="0.6" />
<line x1="61.30" y1="133.00" x2="61.30" y2="135.00" stroke="#333" stroke-width="0.8" />
<text x="61.90" y="141.90" font-size="7.4" text-anchor="middle" font-weight="bold" fill="#000" >360</text>
<line x1="86.42" y1="133.00" x2="86.42" y2="135.00" stroke="#333" stroke-width="0.8" />
<text x="87.02" y="141.90" font-size="7.4" text-anchor="middle" font-weight="bold" fill="#000" >365</text>
<line x1="111.55" y1="133.00" x2="111.55" y2="135.00" stroke="#333" stroke-width="0.8" />
<text x="112.15" y="141.90" font-size="7.4" text-anchor="middle" font-weight="bold" fill="#000" >370</text>
<line x1="136.68" y1="133.00" x2="136.68" y2="135.00" stroke="#333" stroke-width="0.8" />
<text x="137.28" y="141.90" font-size="7.4" text-anchor="middle" font-weight="bold" fill="#000" >375</text>
<line x1="161.80" y1="133.00" x2="161.80" y2="135.00" stroke="#333" stroke-width="0.8" />
<text x="162.40" y="141.90" font-size="7.4" text-anchor="middle" font-weight="bold" fill="#000" >380</text>
<polyline points="61.40,131.50 89.20,131.20 103.20,129.90 109.60,129.60 161.80,128.30" fill="none" stroke="#1a1ae8" stroke-width="1.2" stroke-linejoin="round" stroke-linecap="round" />
<circle cx="61.40" cy="131.50" r="1.2" fill="none" stroke="#1a1ae8" stroke-width="0.75"/>
<circle cx="63.90" cy="131.47" r="1.2" fill="none" stroke="#1a1ae8" stroke-width="0.75"/>
<circle cx="66.40" cy="131.45" r="1.2" fill="none" stroke="#1a1ae8" stroke-width="0.75"/>
<circle cx="68.90" cy="131.42" r="1.2" fill="none" stroke="#1a1ae8" stroke-width="0.75"/>
<circle cx="71.40" cy="131.39" r="1.2" fill="none" stroke="#1a1ae8" stroke-width="0.75"/>
<circle cx="73.90" cy="131.37" r="1.2" fill="none" stroke="#1a1ae8" stroke-width="0.75"/>
<circle cx="76.40" cy="131.34" r="1.2" fill="none" stroke="#1a1ae8" stroke-width="0.75"/>
<circle cx="78.90" cy="131.31" r="1.2" fill="none" stroke="#1a1ae8" stroke-width="0.75"/>
<circle cx="81.40" cy="131.28" r="1.2" fill="none" stroke="#1a1ae8" stroke-width="0.75"/>
<circle cx="83.90" cy="131.26" r="1.2" fill="none" stroke="#1a1ae8" stroke-width="0.75"/>
<circle cx="86.40" cy="131.23" r="1.2" fill="none" stroke="#1a1ae8" stroke-width="0.75"/>
<circle cx="88.90" cy="131.20" r="1.2" fill="none" stroke="#1a1ae8" stroke-width="0.75"/>
<circle cx="91.39" cy="131.00" r="1.2" fill="none" stroke="#1a1ae8" stroke-width="0.75"/>
<circle cx="93.88" cy="130.77" r="1.2" fill="none" stroke="#1a1ae8" stroke-width="0.75"/>
<circle cx="96.37" cy="130.53" r="1.2" fill="none" stroke="#1a1ae8" stroke-width="0.75"/>
<circle cx="98.86" cy="130.30" r="1.2" fill="none" stroke="#1a1ae8" stroke-width="0.75"/>
<circle cx="101.35" cy="130.07" r="1.2" fill="none" stroke="#1a1ae8" stroke-width="0.75"/>
<circle cx="103.84" cy="129.87" r="1.2" fill="none" stroke="#1a1ae8" stroke-width="0.75"/>
<circle cx="106.33" cy="129.75" r="1.2" fill="none" stroke="#1a1ae8" stroke-width="0.75"/>
<circle cx="108.83" cy="129.64" r="1.2" fill="none" stroke="#1a1ae8" stroke-width="0.75"/>
<circle cx="111.33" cy="129.56" r="1.2" fill="none" stroke="#1a1ae8" stroke-width="0.75"/>
<circle cx="113.83" cy="129.49" r="1.2" fill="none" stroke="#1a1ae8" stroke-width="0.75"/>
<circle cx="116.33" cy="129.43" r="1.2" fill="none" stroke="#1a1ae8" stroke-width="0.75"/>
<circle cx="118.83" cy="129.37" r="1.2" fill="none" stroke="#1a1ae8" stroke-width="0.75"/>
<circle cx="121.33" cy="129.31" r="1.2" fill="none" stroke="#1a1ae8" stroke-width="0.75"/>
<circle cx="123.83" cy="129.25" r="1.2" fill="none" stroke="#1a1ae8" stroke-width="0.75"/>
<circle cx="126.33" cy="129.18" r="1.2" fill="none" stroke="#1a1ae8" stroke-width="0.75"/>
<circle cx="128.83" cy="129.12" r="1.2" fill="none" stroke="#1a1ae8" stroke-width="0.75"/>
<circle cx="131.32" cy="129.06" r="1.2" fill="none" stroke="#1a1ae8" stroke-width="0.75"/>
<circle cx="133.82" cy="129.00" r="1.2" fill="none" stroke="#1a1ae8" stroke-width="0.75"/>
<circle cx="136.32" cy="128.93" r="1.2" fill="none" stroke="#1a1ae8" stroke-width="0.75"/>
<circle cx="138.82" cy="128.87" r="1.2" fill="none" stroke="#1a1ae8" stroke-width="0.75"/>
<circle cx="141.32" cy="128.81" r="1.2" fill="none" stroke="#1a1ae8" stroke-width="0.75"/>
<circle cx="143.82" cy="128.75" r="1.2" fill="none" stroke="#1a1ae8" stroke-width="0.75"/>
<circle cx="146.32" cy="128.69" r="1.2" fill="none" stroke="#1a1ae8" stroke-width="0.75"/>
<circle cx="148.82" cy="128.62" r="1.2" fill="none" stroke="#1a1ae8" stroke-width="0.75"/>
<circle cx="151.32" cy="128.56" r="1.2" fill="none" stroke="#1a1ae8" stroke-width="0.75"/>
<circle cx="153.82" cy="128.50" r="1.2" fill="none" stroke="#1a1ae8" stroke-width="0.75"/>
<circle cx="156.32" cy="128.44" r="1.2" fill="none" stroke="#1a1ae8" stroke-width="0.75"/>
<circle cx="158.82" cy="128.37" r="1.2" fill="none" stroke="#1a1ae8" stroke-width="0.75"/>
<circle cx="161.32" cy="128.31" r="1.2" fill="none" stroke="#1a1ae8" stroke-width="0.75"/>
<polyline points="61.40,127.80 89.20,126.20 96.80,125.10 99.20,118.70 102.40,113.00 109.60,112.60 135.30,110.60 161.80,105.80" fill="none" stroke="#f040f0" stroke-width="0.8" stroke-linejoin="round" stroke-linecap="round" />
<circle cx="61.40" cy="127.80" r="1.2" fill="none" stroke="#f040f0" stroke-width="0.75"/>
<circle cx="63.90" cy="127.66" r="1.2" fill="none" stroke="#f040f0" stroke-width="0.75"/>
<circle cx="66.39" cy="127.51" r="1.2" fill="none" stroke="#f040f0" stroke-width="0.75"/>
<circle cx="68.89" cy="127.37" r="1.2" fill="none" stroke="#f040f0" stroke-width="0.75"/>
<circle cx="71.38" cy="127.23" r="1.2" fill="none" stroke="#f040f0" stroke-width="0.75"/>
<circle cx="73.88" cy="127.08" r="1.2" fill="none" stroke="#f040f0" stroke-width="0.75"/>
<circle cx="76.38" cy="126.94" r="1.2" fill="none" stroke="#f040f0" stroke-width="0.75"/>
<circle cx="78.87" cy="126.79" r="1.2" fill="none" stroke="#f040f0" stroke-width="0.75"/>
<circle cx="81.37" cy="126.65" r="1.2" fill="none" stroke="#f040f0" stroke-width="0.75"/>
<circle cx="83.86" cy="126.51" r="1.2" fill="none" stroke="#f040f0" stroke-width="0.75"/>
<circle cx="86.36" cy="126.36" r="1.2" fill="none" stroke="#f040f0" stroke-width="0.75"/>
<circle cx="88.85" cy="126.22" r="1.2" fill="none" stroke="#f040f0" stroke-width="0.75"/>
<circle cx="110.99" cy="112.49" r="1.2" fill="none" stroke="#f040f0" stroke-width="0.75"/>
<circle cx="113.48" cy="112.30" r="1.2" fill="none" stroke="#f040f0" stroke-width="0.75"/>
<circle cx="115.97" cy="112.10" r="1.2" fill="none" stroke="#f040f0" stroke-width="0.75"/>
<circle cx="118.46" cy="111.91" r="1.2" fill="none" stroke="#f040f0" stroke-width="0.75"/>
<circle cx="120.96" cy="111.72" r="1.2" fill="none" stroke="#f040f0" stroke-width="0.75"/>
<circle cx="123.45" cy="111.52" r="1.2" fill="none" stroke="#f040f0" stroke-width="0.75"/>
<circle cx="125.94" cy="111.33" r="1.2" fill="none" stroke="#f040f0" stroke-width="0.75"/>
<circle cx="128.43" cy="111.13" r="1.2" fill="none" stroke="#f040f0" stroke-width="0.75"/>
<circle cx="130.93" cy="110.94" r="1.2" fill="none" stroke="#f040f0" stroke-width="0.75"/>
<circle cx="133.42" cy="110.75" r="1.2" fill="none" stroke="#f040f0" stroke-width="0.75"/>
<circle cx="135.90" cy="110.49" r="1.2" fill="none" stroke="#f040f0" stroke-width="0.75"/>
<circle cx="138.36" cy="110.04" r="1.2" fill="none" stroke="#f040f0" stroke-width="0.75"/>
<circle cx="140.82" cy="109.60" r="1.2" fill="none" stroke="#f040f0" stroke-width="0.75"/>
<circle cx="143.28" cy="109.15" r="1.2" fill="none" stroke="#f040f0" stroke-width="0.75"/>
<circle cx="145.74" cy="108.71" r="1.2" fill="none" stroke="#f040f0" stroke-width="0.75"/>
<circle cx="148.20" cy="108.26" r="1.2" fill="none" stroke="#f040f0" stroke-width="0.75"/>
<circle cx="150.66" cy="107.82" r="1.2" fill="none" stroke="#f040f0" stroke-width="0.75"/>
<circle cx="153.12" cy="107.37" r="1.2" fill="none" stroke="#f040f0" stroke-width="0.75"/>
<circle cx="155.58" cy="106.93" r="1.2" fill="none" stroke="#f040f0" stroke-width="0.75"/>
<circle cx="158.04" cy="106.48" r="1.2" fill="none" stroke="#f040f0" stroke-width="0.75"/>
<circle cx="160.50" cy="106.03" r="1.2" fill="none" stroke="#f040f0" stroke-width="0.75"/>
<polyline points="61.40,123.50 89.20,119.50 93.50,118.70 98.40,109.00 103.20,104.20 109.60,101.50 135.30,99.40 161.80,94.60" fill="none" stroke="#7ae61e" stroke-width="0.8" stroke-linejoin="round" stroke-linecap="round" />
<circle cx="61.40" cy="123.50" r="1.2" fill="none" stroke="#7ae61e" stroke-width="0.75"/>
<circle cx="63.87" cy="123.14" r="1.2" fill="none" stroke="#7ae61e" stroke-width="0.75"/>
<circle cx="66.35" cy="122.79" r="1.2" fill="none" stroke="#7ae61e" stroke-width="0.75"/>
<circle cx="68.82" cy="122.43" r="1.2" fill="none" stroke="#7ae61e" stroke-width="0.75"/>
<circle cx="71.30" cy="122.08" r="1.2" fill="none" stroke="#7ae61e" stroke-width="0.75"/>
<circle cx="73.77" cy="121.72" r="1.2" fill="none" stroke="#7ae61e" stroke-width="0.75"/>
<circle cx="76.25" cy="121.36" r="1.2" fill="none" stroke="#7ae61e" stroke-width="0.75"/>
<circle cx="78.72" cy="121.01" r="1.2" fill="none" stroke="#7ae61e" stroke-width="0.75"/>
<circle cx="81.20" cy="120.65" r="1.2" fill="none" stroke="#7ae61e" stroke-width="0.75"/>
<circle cx="83.67" cy="120.30" r="1.2" fill="none" stroke="#7ae61e" stroke-width="0.75"/>
<circle cx="86.15" cy="119.94" r="1.2" fill="none" stroke="#7ae61e" stroke-width="0.75"/>
<circle cx="88.62" cy="119.58" r="1.2" fill="none" stroke="#7ae61e" stroke-width="0.75"/>
<circle cx="110.04" cy="101.46" r="1.2" fill="none" stroke="#7ae61e" stroke-width="0.75"/>
<circle cx="112.53" cy="101.26" r="1.2" fill="none" stroke="#7ae61e" stroke-width="0.75"/>
<circle cx="115.02" cy="101.06" r="1.2" fill="none" stroke="#7ae61e" stroke-width="0.75"/>
<circle cx="117.51" cy="100.85" r="1.2" fill="none" stroke="#7ae61e" stroke-width="0.75"/>
<circle cx="120.00" cy="100.65" r="1.2" fill="none" stroke="#7ae61e" stroke-width="0.75"/>
<circle cx="122.50" cy="100.45" r="1.2" fill="none" stroke="#7ae61e" stroke-width="0.75"/>
<circle cx="124.99" cy="100.24" r="1.2" fill="none" stroke="#7ae61e" stroke-width="0.75"/>
<circle cx="127.48" cy="100.04" r="1.2" fill="none" stroke="#7ae61e" stroke-width="0.75"/>
<circle cx="129.97" cy="99.84" r="1.2" fill="none" stroke="#7ae61e" stroke-width="0.75"/>
<circle cx="132.46" cy="99.63" r="1.2" fill="none" stroke="#7ae61e" stroke-width="0.75"/>
<circle cx="134.95" cy="99.43" r="1.2" fill="none" stroke="#7ae61e" stroke-width="0.75"/>
<circle cx="137.42" cy="99.02" r="1.2" fill="none" stroke="#7ae61e" stroke-width="0.75"/>
<circle cx="139.88" cy="98.57" r="1.2" fill="none" stroke="#7ae61e" stroke-width="0.75"/>
<circle cx="142.34" cy="98.13" r="1.2" fill="none" stroke="#7ae61e" stroke-width="0.75"/>
<circle cx="144.80" cy="97.68" r="1.2" fill="none" stroke="#7ae61e" stroke-width="0.75"/>
<circle cx="147.26" cy="97.23" r="1.2" fill="none" stroke="#7ae61e" stroke-width="0.75"/>
<circle cx="149.72" cy="96.79" r="1.2" fill="none" stroke="#7ae61e" stroke-width="0.75"/>
<circle cx="152.18" cy="96.34" r="1.2" fill="none" stroke="#7ae61e" stroke-width="0.75"/>
<circle cx="154.64" cy="95.90" r="1.2" fill="none" stroke="#7ae61e" stroke-width="0.75"/>
<circle cx="157.10" cy="95.45" r="1.2" fill="none" stroke="#7ae61e" stroke-width="0.75"/>
<circle cx="159.56" cy="95.01" r="1.2" fill="none" stroke="#7ae61e" stroke-width="0.75"/>
<polyline points="61.40,121.10 89.20,118.70 93.50,112.20 98.40,96.20 103.20,83.30 105.60,82.00 109.60,82.50 135.30,76.90 161.80,68.90" fill="none" stroke="#f2b320" stroke-width="0.8" stroke-linejoin="round" stroke-linecap="round" />
<circle cx="61.40" cy="121.10" r="1.2" fill="none" stroke="#f2b320" stroke-width="0.75"/>
<circle cx="63.89" cy="120.88" r="1.2" fill="none" stroke="#f2b320" stroke-width="0.75"/>
<circle cx="66.38" cy="120.67" r="1.2" fill="none" stroke="#f2b320" stroke-width="0.75"/>
<circle cx="68.87" cy="120.45" r="1.2" fill="none" stroke="#f2b320" stroke-width="0.75"/>
<circle cx="71.36" cy="120.24" r="1.2" fill="none" stroke="#f2b320" stroke-width="0.75"/>
<circle cx="73.85" cy="120.02" r="1.2" fill="none" stroke="#f2b320" stroke-width="0.75"/>
<circle cx="76.34" cy="119.81" r="1.2" fill="none" stroke="#f2b320" stroke-width="0.75"/>
<circle cx="78.84" cy="119.59" r="1.2" fill="none" stroke="#f2b320" stroke-width="0.75"/>
<circle cx="81.33" cy="119.38" r="1.2" fill="none" stroke="#f2b320" stroke-width="0.75"/>
<circle cx="83.82" cy="119.16" r="1.2" fill="none" stroke="#f2b320" stroke-width="0.75"/>
<circle cx="86.31" cy="118.95" r="1.2" fill="none" stroke="#f2b320" stroke-width="0.75"/>
<circle cx="88.80" cy="118.73" r="1.2" fill="none" stroke="#f2b320" stroke-width="0.75"/>
<circle cx="109.15" cy="82.44" r="1.2" fill="none" stroke="#f2b320" stroke-width="0.75"/>
<circle cx="111.60" cy="82.06" r="1.2" fill="none" stroke="#f2b320" stroke-width="0.75"/>
<circle cx="114.04" cy="81.53" r="1.2" fill="none" stroke="#f2b320" stroke-width="0.75"/>
<circle cx="116.48" cy="81.00" r="1.2" fill="none" stroke="#f2b320" stroke-width="0.75"/>
<circle cx="118.93" cy="80.47" r="1.2" fill="none" stroke="#f2b320" stroke-width="0.75"/>
<circle cx="121.37" cy="79.94" r="1.2" fill="none" stroke="#f2b320" stroke-width="0.75"/>
<circle cx="123.81" cy="79.40" r="1.2" fill="none" stroke="#f2b320" stroke-width="0.75"/>
<circle cx="126.25" cy="78.87" r="1.2" fill="none" stroke="#f2b320" stroke-width="0.75"/>
<circle cx="128.70" cy="78.34" r="1.2" fill="none" stroke="#f2b320" stroke-width="0.75"/>
<circle cx="131.14" cy="77.81" r="1.2" fill="none" stroke="#f2b320" stroke-width="0.75"/>
<circle cx="133.58" cy="77.27" r="1.2" fill="none" stroke="#f2b320" stroke-width="0.75"/>
<circle cx="136.01" cy="76.69" r="1.2" fill="none" stroke="#f2b320" stroke-width="0.75"/>
<circle cx="138.40" cy="75.96" r="1.2" fill="none" stroke="#f2b320" stroke-width="0.75"/>
<circle cx="140.80" cy="75.24" r="1.2" fill="none" stroke="#f2b320" stroke-width="0.75"/>
<circle cx="143.19" cy="74.52" r="1.2" fill="none" stroke="#f2b320" stroke-width="0.75"/>
<circle cx="145.58" cy="73.80" r="1.2" fill="none" stroke="#f2b320" stroke-width="0.75"/>
<circle cx="147.98" cy="73.07" r="1.2" fill="none" stroke="#f2b320" stroke-width="0.75"/>
<circle cx="150.37" cy="72.35" r="1.2" fill="none" stroke="#f2b320" stroke-width="0.75"/>
<circle cx="152.76" cy="71.63" r="1.2" fill="none" stroke="#f2b320" stroke-width="0.75"/>
<circle cx="155.16" cy="70.91" r="1.2" fill="none" stroke="#f2b320" stroke-width="0.75"/>
<circle cx="157.55" cy="70.18" r="1.2" fill="none" stroke="#f2b320" stroke-width="0.75"/>
<circle cx="159.94" cy="69.46" r="1.2" fill="none" stroke="#f2b320" stroke-width="0.75"/>
<polyline points="61.40,118.70 89.20,114.30 92.70,110.60 97.60,96.20 101.60,72.10 104.80,67.30 109.60,67.60 122.40,63.30 135.30,58.40 149.70,52.80" fill="none" stroke="#f0287a" stroke-width="0.8" stroke-linejoin="round" stroke-linecap="round" />
<circle cx="61.40" cy="118.70" r="1.2" fill="none" stroke="#f0287a" stroke-width="0.75"/>
<circle cx="63.87" cy="118.31" r="1.2" fill="none" stroke="#f0287a" stroke-width="0.75"/>
<circle cx="66.34" cy="117.92" r="1.2" fill="none" stroke="#f0287a" stroke-width="0.75"/>
<circle cx="68.81" cy="117.53" r="1.2" fill="none" stroke="#f0287a" stroke-width="0.75"/>
<circle cx="71.28" cy="117.14" r="1.2" fill="none" stroke="#f0287a" stroke-width="0.75"/>
<circle cx="73.75" cy="116.75" r="1.2" fill="none" stroke="#f0287a" stroke-width="0.75"/>
<circle cx="76.22" cy="116.36" r="1.2" fill="none" stroke="#f0287a" stroke-width="0.75"/>
<circle cx="78.68" cy="115.96" r="1.2" fill="none" stroke="#f0287a" stroke-width="0.75"/>
<circle cx="81.15" cy="115.57" r="1.2" fill="none" stroke="#f0287a" stroke-width="0.75"/>
<circle cx="83.62" cy="115.18" r="1.2" fill="none" stroke="#f0287a" stroke-width="0.75"/>
<circle cx="86.09" cy="114.79" r="1.2" fill="none" stroke="#f0287a" stroke-width="0.75"/>
<circle cx="88.56" cy="114.40" r="1.2" fill="none" stroke="#f0287a" stroke-width="0.75"/>
<circle cx="111.06" cy="67.11" r="1.2" fill="none" stroke="#f0287a" stroke-width="0.75"/>
<circle cx="113.43" cy="66.31" r="1.2" fill="none" stroke="#f0287a" stroke-width="0.75"/>
<circle cx="115.80" cy="65.52" r="1.2" fill="none" stroke="#f0287a" stroke-width="0.75"/>
<circle cx="118.17" cy="64.72" r="1.2" fill="none" stroke="#f0287a" stroke-width="0.75"/>
<circle cx="120.54" cy="63.92" r="1.2" fill="none" stroke="#f0287a" stroke-width="0.75"/>
<circle cx="122.90" cy="63.11" r="1.2" fill="none" stroke="#f0287a" stroke-width="0.75"/>
<circle cx="125.24" cy="62.22" r="1.2" fill="none" stroke="#f0287a" stroke-width="0.75"/>
<circle cx="127.58" cy="61.33" r="1.2" fill="none" stroke="#f0287a" stroke-width="0.75"/>
<circle cx="129.92" cy="60.45" r="1.2" fill="none" stroke="#f0287a" stroke-width="0.75"/>
<circle cx="132.25" cy="59.56" r="1.2" fill="none" stroke="#f0287a" stroke-width="0.75"/>
<circle cx="134.59" cy="58.67" r="1.2" fill="none" stroke="#f0287a" stroke-width="0.75"/>
<circle cx="136.92" cy="57.77" r="1.2" fill="none" stroke="#f0287a" stroke-width="0.75"/>
<circle cx="139.25" cy="56.86" r="1.2" fill="none" stroke="#f0287a" stroke-width="0.75"/>
<circle cx="141.58" cy="55.96" r="1.2" fill="none" stroke="#f0287a" stroke-width="0.75"/>
<circle cx="143.91" cy="55.05" r="1.2" fill="none" stroke="#f0287a" stroke-width="0.75"/>
<circle cx="146.24" cy="54.14" r="1.2" fill="none" stroke="#f0287a" stroke-width="0.75"/>
<circle cx="148.57" cy="53.24" r="1.2" fill="none" stroke="#f0287a" stroke-width="0.75"/>
<line x1="109.60" y1="133.00" x2="139.00" y2="144.60" stroke="#ee2222" stroke-width="1" />
<text x="2.80" y="19.30" font-size="21.5" text-anchor="start" font-weight="bold" fill="#000" >a</text>
<rect x="256.2" y="12.5" width="173.40000000000003" height="139.5" fill="#fff" stroke="#333" stroke-width="1"/>
<line x1="253.40" y1="151.95" x2="256.20" y2="151.95" stroke="#333" stroke-width="1" />
<text x="251.30" y="154.95" font-size="8.4" text-anchor="end" font-weight="bold" fill="#000" >-20</text>
<line x1="253.40" y1="134.51" x2="256.20" y2="134.51" stroke="#333" stroke-width="1" />
<text x="251.30" y="137.51" font-size="8.4" text-anchor="end" font-weight="bold" fill="#000" >-15</text>
<line x1="253.40" y1="117.08" x2="256.20" y2="117.08" stroke="#333" stroke-width="1" />
<text x="251.30" y="120.08" font-size="8.4" text-anchor="end" font-weight="bold" fill="#000" >-10</text>
<line x1="253.40" y1="99.64" x2="256.20" y2="99.64" stroke="#333" stroke-width="1" />
<text x="251.30" y="102.64" font-size="8.4" text-anchor="end" font-weight="bold" fill="#000" >-5</text>
<line x1="253.40" y1="82.20" x2="256.20" y2="82.20" stroke="#333" stroke-width="1" />
<text x="251.30" y="85.20" font-size="8.4" text-anchor="end" font-weight="bold" fill="#000" >0</text>
<line x1="253.40" y1="64.76" x2="256.20" y2="64.76" stroke="#333" stroke-width="1" />
<text x="251.30" y="67.76" font-size="8.4" text-anchor="end" font-weight="bold" fill="#000" >5</text>
<line x1="253.40" y1="47.33" x2="256.20" y2="47.33" stroke="#333" stroke-width="1" />
<text x="251.30" y="50.33" font-size="8.4" text-anchor="end" font-weight="bold" fill="#000" >10</text>
<line x1="253.40" y1="29.89" x2="256.20" y2="29.89" stroke="#333" stroke-width="1" />
<text x="251.30" y="32.89" font-size="8.4" text-anchor="end" font-weight="bold" fill="#000" >15</text>
<line x1="253.40" y1="12.45" x2="256.20" y2="12.45" stroke="#333" stroke-width="1" />
<text x="251.30" y="15.45" font-size="8.4" text-anchor="end" font-weight="bold" fill="#000" >20</text>
<line x1="254.60" y1="143.23" x2="256.20" y2="143.23" stroke="#333" stroke-width="0.8" />
<line x1="254.60" y1="125.79" x2="256.20" y2="125.79" stroke="#333" stroke-width="0.8" />
<line x1="254.60" y1="108.36" x2="256.20" y2="108.36" stroke="#333" stroke-width="0.8" />
<line x1="254.60" y1="90.92" x2="256.20" y2="90.92" stroke="#333" stroke-width="0.8" />
<line x1="254.60" y1="73.48" x2="256.20" y2="73.48" stroke="#333" stroke-width="0.8" />
<line x1="254.60" y1="56.04" x2="256.20" y2="56.04" stroke="#333" stroke-width="0.8" />
<line x1="254.60" y1="38.61" x2="256.20" y2="38.61" stroke="#333" stroke-width="0.8" />
<line x1="254.60" y1="21.17" x2="256.20" y2="21.17" stroke="#333" stroke-width="0.8" />
<line x1="256.20" y1="152.00" x2="256.20" y2="154.80" stroke="#333" stroke-width="1" />
<text x="256.20" y="163.40" font-size="8.3" text-anchor="middle" font-weight="bold" fill="#000" >-40</text>
<line x1="277.80" y1="152.00" x2="277.80" y2="154.80" stroke="#333" stroke-width="1" />
<text x="277.80" y="163.40" font-size="8.3" text-anchor="middle" font-weight="bold" fill="#000" >-30</text>
<line x1="299.40" y1="152.00" x2="299.40" y2="154.80" stroke="#333" stroke-width="1" />
<text x="299.40" y="163.40" font-size="8.3" text-anchor="middle" font-weight="bold" fill="#000" >-20</text>
<line x1="321.00" y1="152.00" x2="321.00" y2="154.80" stroke="#333" stroke-width="1" />
<text x="321.00" y="163.40" font-size="8.3" text-anchor="middle" font-weight="bold" fill="#000" >-10</text>
<line x1="342.60" y1="152.00" x2="342.60" y2="154.80" stroke="#333" stroke-width="1" />
<text x="342.60" y="163.40" font-size="8.3" text-anchor="middle" font-weight="bold" fill="#000" >0</text>
<line x1="364.20" y1="152.00" x2="364.20" y2="154.80" stroke="#333" stroke-width="1" />
<text x="364.20" y="163.40" font-size="8.3" text-anchor="middle" font-weight="bold" fill="#000" >10</text>
<line x1="385.80" y1="152.00" x2="385.80" y2="154.80" stroke="#333" stroke-width="1" />
<text x="385.80" y="163.40" font-size="8.3" text-anchor="middle" font-weight="bold" fill="#000" >20</text>
<line x1="407.40" y1="152.00" x2="407.40" y2="154.80" stroke="#333" stroke-width="1" />
<text x="407.40" y="163.40" font-size="8.3" text-anchor="middle" font-weight="bold" fill="#000" >30</text>
<line x1="429.00" y1="152.00" x2="429.00" y2="154.80" stroke="#333" stroke-width="1" />
<text x="429.00" y="163.40" font-size="8.3" text-anchor="middle" font-weight="bold" fill="#000" >40</text>
<line x1="267.00" y1="152.00" x2="267.00" y2="153.60" stroke="#333" stroke-width="0.8" />
<line x1="288.60" y1="152.00" x2="288.60" y2="153.60" stroke="#333" stroke-width="0.8" />
<line x1="310.20" y1="152.00" x2="310.20" y2="153.60" stroke="#333" stroke-width="0.8" />
<line x1="331.80" y1="152.00" x2="331.80" y2="153.60" stroke="#333" stroke-width="0.8" />
<line x1="353.40" y1="152.00" x2="353.40" y2="153.60" stroke="#333" stroke-width="0.8" />
<line x1="375.00" y1="152.00" x2="375.00" y2="153.60" stroke="#333" stroke-width="0.8" />
<line x1="396.60" y1="152.00" x2="396.60" y2="153.60" stroke="#333" stroke-width="0.8" />
<line x1="418.20" y1="152.00" x2="418.20" y2="153.60" stroke="#333" stroke-width="0.8" />
<line x1="256.20" y1="82.20" x2="429.60" y2="82.20" stroke="#222" stroke-width="1" />
<line x1="342.60" y1="12.50" x2="342.60" y2="152.00" stroke="#222" stroke-width="1" />
<text x="343.00" y="173.50" font-size="10.4" text-anchor="middle" font-weight="bold" fill="#000" >Electric field (kV/cm)</text>
<text transform="translate(236.20,82.40) rotate(-90)" font-size="10.5" font-weight="bold" text-anchor="middle" fill="#000" >Polarization (μc/Cm<tspan font-size="7" dy="-4.4">2</tspan><tspan dy="4.4">)</tspan></text>
<path d="M415.10,22.40 C410.87,22.53 411.83,22.13 402.40,22.80 C392.97,23.47 397.20,22.77 386.80,24.40 C376.40,26.03 381.63,24.97 371.20,27.70 C360.77,30.43 364.63,29.53 355.50,32.60 C346.37,35.67 350.30,34.37 343.80,36.90 C337.30,39.43 340.53,37.93 336.00,40.20 C331.47,42.47 335.37,39.93 330.20,43.70 C325.03,47.47 326.37,45.63 320.50,51.50 C314.63,57.37 317.17,54.80 312.60,61.30 C308.03,67.80 310.03,64.17 306.80,71.00 C303.57,77.83 304.87,75.30 302.90,81.80 C300.93,88.30 302.87,84.97 300.90,90.50 C298.93,96.03 300.23,93.17 297.00,98.40 C293.77,103.63 295.77,100.37 291.20,106.20 C286.63,112.03 288.53,110.03 283.30,115.90 C278.07,121.77 279.40,120.20 275.50,123.80 C271.60,127.40 272.90,125.73 271.60,126.70" fill="none" stroke="#ee2a7b" stroke-width="2.2" stroke-linecap="round"/>
<path d="M271.60,126.70 C272.90,127.13 270.93,127.67 275.50,128.00 C280.07,128.33 275.53,128.47 285.30,127.70 C295.07,126.93 291.77,128.00 304.80,125.70 C317.83,123.40 314.00,123.83 324.40,120.80 C334.80,117.77 330.13,118.60 336.00,116.60 C341.87,114.60 340.00,115.40 342.00,114.80" fill="none" stroke="#ee2a7b" stroke-width="2.2" stroke-linecap="round"/>
<path d="M342.60,112.40 C343.00,111.83 341.43,112.03 343.80,110.70 C346.17,109.37 345.13,110.67 349.70,108.40 C354.27,106.13 351.63,109.00 357.50,103.90 C363.37,98.80 361.43,100.60 367.30,93.10 C373.17,85.60 369.90,89.87 375.10,81.40 C380.30,72.93 378.37,76.17 382.90,67.70 C387.43,59.23 385.13,63.13 388.70,56.00 C392.27,48.87 389.67,52.17 393.60,46.30 C397.53,40.43 395.60,43.63 400.50,38.40 C405.40,33.17 403.43,35.67 408.30,30.60 C413.17,25.53 412.83,25.67 415.10,23.20" fill="none" stroke="#ee2a7b" stroke-width="2.2" stroke-linecap="round"/>
<line x1="342.00" y1="114.80" x2="342.60" y2="112.40" stroke="#ee2a7b" stroke-width="2.2" />
<line x1="352.00" y1="25.80" x2="415.40" y2="22.40" stroke="#2222ee" stroke-width="2.0" />
<polygon points="341.90,26.30 353.60,22.90 353.60,29.70" fill="#2222ee" />
<text x="320.60" y="31.60" font-size="13.3" text-anchor="middle" font-weight="bold" fill="#2222dd" >15.85</text>
<text x="224.30" y="18.00" font-size="22" text-anchor="start" font-weight="bold" fill="#000" >b</text>
<line x1="476.90" y1="12.20" x2="651.60" y2="12.20" stroke="#222" stroke-width="1.2" />
<line x1="476.90" y1="152.20" x2="651.60" y2="152.20" stroke="#222" stroke-width="1.2" />
<line x1="476.90" y1="12.20" x2="476.90" y2="152.20" stroke="#2ee8f5" stroke-width="1.3" />
<line x1="651.60" y1="12.20" x2="651.60" y2="152.20" stroke="#f0287a" stroke-width="1.3" />
<line x1="474.10" y1="152.20" x2="476.90" y2="152.20" stroke="#2ee8f5" stroke-width="1" />
<text x="472.60" y="155.20" font-size="8.4" text-anchor="end" font-weight="bold" fill="#2ee8f5" >0</text>
<line x1="474.10" y1="105.53" x2="476.90" y2="105.53" stroke="#2ee8f5" stroke-width="1" />
<text x="472.60" y="108.53" font-size="8.4" text-anchor="end" font-weight="bold" fill="#2ee8f5" >20</text>
<line x1="474.10" y1="58.87" x2="476.90" y2="58.87" stroke="#2ee8f5" stroke-width="1" />
<text x="472.60" y="61.87" font-size="8.4" text-anchor="end" font-weight="bold" fill="#2ee8f5" >40</text>
<line x1="474.10" y1="12.20" x2="476.90" y2="12.20" stroke="#2ee8f5" stroke-width="1" />
<text x="472.60" y="15.20" font-size="8.4" text-anchor="end" font-weight="bold" fill="#2ee8f5" >60</text>
<line x1="475.30" y1="128.87" x2="476.90" y2="128.87" stroke="#2ee8f5" stroke-width="0.8" />
<line x1="475.30" y1="82.20" x2="476.90" y2="82.20" stroke="#2ee8f5" stroke-width="0.8" />
<line x1="475.30" y1="35.53" x2="476.90" y2="35.53" stroke="#2ee8f5" stroke-width="0.8" />
<line x1="651.60" y1="140.00" x2="654.40" y2="140.00" stroke="#f0287a" stroke-width="1" />
<text x="655.60" y="143.00" font-size="8.6" text-anchor="start" font-weight="bold" fill="#f0287a" >0</text>
<line x1="651.60" y1="116.72" x2="654.40" y2="116.72" stroke="#f0287a" stroke-width="1" />
<text x="655.60" y="119.72" font-size="8.6" text-anchor="start" font-weight="bold" fill="#f0287a" >50</text>
<line x1="651.60" y1="93.44" x2="654.40" y2="93.44" stroke="#f0287a" stroke-width="1" />
<text x="655.60" y="96.44" font-size="8.6" text-anchor="start" font-weight="bold" fill="#f0287a" >100</text>
<line x1="651.60" y1="70.16" x2="654.40" y2="70.16" stroke="#f0287a" stroke-width="1" />
<text x="655.60" y="73.16" font-size="8.6" text-anchor="start" font-weight="bold" fill="#f0287a" >150</text>
<line x1="651.60" y1="46.88" x2="654.40" y2="46.88" stroke="#f0287a" stroke-width="1" />
<text x="655.60" y="49.88" font-size="8.6" text-anchor="start" font-weight="bold" fill="#f0287a" >200</text>
<line x1="651.60" y1="23.60" x2="654.40" y2="23.60" stroke="#f0287a" stroke-width="1" />
<text x="655.60" y="26.60" font-size="8.6" text-anchor="start" font-weight="bold" fill="#f0287a" >250</text>
<line x1="651.60" y1="151.64" x2="653.20" y2="151.64" stroke="#f0287a" stroke-width="0.8" />
<line x1="651.60" y1="128.36" x2="653.20" y2="128.36" stroke="#f0287a" stroke-width="0.8" />
<line x1="651.60" y1="105.08" x2="653.20" y2="105.08" stroke="#f0287a" stroke-width="0.8" />
<line x1="651.60" y1="81.80" x2="653.20" y2="81.80" stroke="#f0287a" stroke-width="0.8" />
<line x1="651.60" y1="58.52" x2="653.20" y2="58.52" stroke="#f0287a" stroke-width="0.8" />
<line x1="651.60" y1="35.24" x2="653.20" y2="35.24" stroke="#f0287a" stroke-width="0.8" />
<line x1="495.20" y1="152.20" x2="495.20" y2="155.00" stroke="#222" stroke-width="1" />
<text x="495.20" y="163.40" font-size="8.2" text-anchor="middle" font-weight="bold" fill="#000" >-40</text>
<line x1="529.90" y1="152.20" x2="529.90" y2="155.00" stroke="#222" stroke-width="1" />
<text x="529.90" y="163.40" font-size="8.2" text-anchor="middle" font-weight="bold" fill="#000" >-20</text>
<line x1="564.60" y1="152.20" x2="564.60" y2="155.00" stroke="#222" stroke-width="1" />
<text x="564.60" y="163.40" font-size="8.2" text-anchor="middle" font-weight="bold" fill="#000" >0</text>
<line x1="599.30" y1="152.20" x2="599.30" y2="155.00" stroke="#222" stroke-width="1" />
<text x="599.30" y="163.40" font-size="8.2" text-anchor="middle" font-weight="bold" fill="#000" >20</text>
<line x1="634.00" y1="152.20" x2="634.00" y2="155.00" stroke="#222" stroke-width="1" />
<text x="634.00" y="163.40" font-size="8.2" text-anchor="middle" font-weight="bold" fill="#000" >40</text>
<line x1="477.85" y1="152.20" x2="477.85" y2="153.80" stroke="#222" stroke-width="0.8" />
<line x1="512.55" y1="152.20" x2="512.55" y2="153.80" stroke="#222" stroke-width="0.8" />
<line x1="547.25" y1="152.20" x2="547.25" y2="153.80" stroke="#222" stroke-width="0.8" />
<line x1="581.95" y1="152.20" x2="581.95" y2="153.80" stroke="#222" stroke-width="0.8" />
<line x1="616.65" y1="152.20" x2="616.65" y2="153.80" stroke="#222" stroke-width="0.8" />
<line x1="651.35" y1="152.20" x2="651.35" y2="153.80" stroke="#222" stroke-width="0.8" />
<text x="570.60" y="173.40" font-size="10.3" text-anchor="middle" font-weight="bold" fill="#000" >Bias (V)</text>
<text transform="translate(457.60,81.40) rotate(-90)" font-size="10.3" font-weight="bold" text-anchor="middle" fill="#2ee8f5" >Amplitude (a.u.)</text>
<text transform="translate(680.80,82.00) rotate(-90)" font-size="10.3" font-weight="bold" text-anchor="middle" fill="#f0287a" >Phase (°)</text>
<polyline points="492.50,113.10 498.90,105.40 510.50,104.10 523.40,107.90 536.30,113.10 546.60,115.70 554.30,122.10 562.00,129.80 569.80,133.70 576.20,138.90 582.70,136.30 587.80,131.10 591.70,118.20 596.80,106.60 603.30,95.00 608.40,84.70 612.30,75.70 618.80,69.30 626.50,61.50 631.60,59.00 638.10,55.10 634.20,46.10 623.90,40.90 616.20,43.50 611.00,50.00 600.70,57.70 590.40,64.10 580.10,70.60 572.40,78.30 565.90,84.70 563.30,97.60 559.50,113.10 555.60,126.00 551.70,131.10 545.30,140.20 536.30,136.30 526.00,129.80 515.70,123.40 505.40,115.70 497.60,111.80 492.50,113.10" fill="none" stroke="#30e4f0" stroke-width="1.3" stroke-linejoin="round" stroke-linecap="round" />
<circle cx="492.50" cy="113.10" r="2.8" fill="none" stroke="#30e4f0" stroke-width="1.25"/>
<circle cx="495.38" cy="109.64" r="2.8" fill="none" stroke="#30e4f0" stroke-width="1.25"/>
<circle cx="498.25" cy="106.18" r="2.8" fill="none" stroke="#30e4f0" stroke-width="1.25"/>
<circle cx="502.37" cy="105.01" r="2.8" fill="none" stroke="#30e4f0" stroke-width="1.25"/>
<circle cx="506.84" cy="104.51" r="2.8" fill="none" stroke="#30e4f0" stroke-width="1.25"/>
<circle cx="511.28" cy="104.33" r="2.8" fill="none" stroke="#30e4f0" stroke-width="1.25"/>
<circle cx="515.60" cy="105.60" r="2.8" fill="none" stroke="#30e4f0" stroke-width="1.25"/>
<circle cx="519.91" cy="106.87" r="2.8" fill="none" stroke="#30e4f0" stroke-width="1.25"/>
<circle cx="524.20" cy="108.22" r="2.8" fill="none" stroke="#30e4f0" stroke-width="1.25"/>
<circle cx="528.38" cy="109.91" r="2.8" fill="none" stroke="#30e4f0" stroke-width="1.25"/>
<circle cx="532.55" cy="111.59" r="2.8" fill="none" stroke="#30e4f0" stroke-width="1.25"/>
<circle cx="536.74" cy="113.21" r="2.8" fill="none" stroke="#30e4f0" stroke-width="1.25"/>
<circle cx="541.11" cy="114.31" r="2.8" fill="none" stroke="#30e4f0" stroke-width="1.25"/>
<circle cx="545.47" cy="115.41" r="2.8" fill="none" stroke="#30e4f0" stroke-width="1.25"/>
<circle cx="549.16" cy="117.83" r="2.8" fill="none" stroke="#30e4f0" stroke-width="1.25"/>
<circle cx="552.63" cy="120.71" r="2.8" fill="none" stroke="#30e4f0" stroke-width="1.25"/>
<circle cx="555.94" cy="123.74" r="2.8" fill="none" stroke="#30e4f0" stroke-width="1.25"/>
<circle cx="559.12" cy="126.92" r="2.8" fill="none" stroke="#30e4f0" stroke-width="1.25"/>
<circle cx="562.39" cy="129.99" r="2.8" fill="none" stroke="#30e4f0" stroke-width="1.25"/>
<circle cx="566.41" cy="132.01" r="2.8" fill="none" stroke="#30e4f0" stroke-width="1.25"/>
<circle cx="570.35" cy="134.15" r="2.8" fill="none" stroke="#30e4f0" stroke-width="1.25"/>
<circle cx="573.85" cy="136.99" r="2.8" fill="none" stroke="#30e4f0" stroke-width="1.25"/>
<circle cx="577.56" cy="138.36" r="2.8" fill="none" stroke="#30e4f0" stroke-width="1.25"/>
<circle cx="581.74" cy="136.68" r="2.8" fill="none" stroke="#30e4f0" stroke-width="1.25"/>
<circle cx="585.13" cy="133.83" r="2.8" fill="none" stroke="#30e4f0" stroke-width="1.25"/>
<circle cx="588.00" cy="130.45" r="2.8" fill="none" stroke="#30e4f0" stroke-width="1.25"/>
<circle cx="589.30" cy="126.14" r="2.8" fill="none" stroke="#30e4f0" stroke-width="1.25"/>
<circle cx="590.60" cy="121.83" r="2.8" fill="none" stroke="#30e4f0" stroke-width="1.25"/>
<circle cx="591.98" cy="117.55" r="2.8" fill="none" stroke="#30e4f0" stroke-width="1.25"/>
<circle cx="593.80" cy="113.43" r="2.8" fill="none" stroke="#30e4f0" stroke-width="1.25"/>
<circle cx="595.61" cy="109.32" r="2.8" fill="none" stroke="#30e4f0" stroke-width="1.25"/>
<circle cx="597.55" cy="105.26" r="2.8" fill="none" stroke="#30e4f0" stroke-width="1.25"/>
<circle cx="599.75" cy="101.34" r="2.8" fill="none" stroke="#30e4f0" stroke-width="1.25"/>
<circle cx="601.95" cy="97.41" r="2.8" fill="none" stroke="#30e4f0" stroke-width="1.25"/>
<circle cx="604.07" cy="93.44" r="2.8" fill="none" stroke="#30e4f0" stroke-width="1.25"/>
<circle cx="606.07" cy="89.41" r="2.8" fill="none" stroke="#30e4f0" stroke-width="1.25"/>
<circle cx="608.06" cy="85.38" r="2.8" fill="none" stroke="#30e4f0" stroke-width="1.25"/>
<circle cx="609.89" cy="81.27" r="2.8" fill="none" stroke="#30e4f0" stroke-width="1.25"/>
<circle cx="611.68" cy="77.14" r="2.8" fill="none" stroke="#30e4f0" stroke-width="1.25"/>
<circle cx="614.39" cy="73.64" r="2.8" fill="none" stroke="#30e4f0" stroke-width="1.25"/>
<circle cx="617.60" cy="70.48" r="2.8" fill="none" stroke="#30e4f0" stroke-width="1.25"/>
<circle cx="620.78" cy="67.30" r="2.8" fill="none" stroke="#30e4f0" stroke-width="1.25"/>
<circle cx="623.94" cy="64.10" r="2.8" fill="none" stroke="#30e4f0" stroke-width="1.25"/>
<circle cx="627.27" cy="61.12" r="2.8" fill="none" stroke="#30e4f0" stroke-width="1.25"/>
<circle cx="631.31" cy="59.14" r="2.8" fill="none" stroke="#30e4f0" stroke-width="1.25"/>
<circle cx="635.18" cy="56.85" r="2.8" fill="none" stroke="#30e4f0" stroke-width="1.25"/>
<circle cx="637.67" cy="54.10" r="2.8" fill="none" stroke="#30e4f0" stroke-width="1.25"/>
<circle cx="635.88" cy="49.97" r="2.8" fill="none" stroke="#30e4f0" stroke-width="1.25"/>
<circle cx="633.95" cy="45.97" r="2.8" fill="none" stroke="#30e4f0" stroke-width="1.25"/>
<circle cx="629.93" cy="43.94" r="2.8" fill="none" stroke="#30e4f0" stroke-width="1.25"/>
<circle cx="625.91" cy="41.92" r="2.8" fill="none" stroke="#30e4f0" stroke-width="1.25"/>
<circle cx="621.77" cy="41.62" r="2.8" fill="none" stroke="#30e4f0" stroke-width="1.25"/>
<circle cx="617.51" cy="43.06" r="2.8" fill="none" stroke="#30e4f0" stroke-width="1.25"/>
<circle cx="614.25" cy="45.93" r="2.8" fill="none" stroke="#30e4f0" stroke-width="1.25"/>
<circle cx="611.44" cy="49.45" r="2.8" fill="none" stroke="#30e4f0" stroke-width="1.25"/>
<circle cx="607.96" cy="52.27" r="2.8" fill="none" stroke="#30e4f0" stroke-width="1.25"/>
<circle cx="604.36" cy="54.97" r="2.8" fill="none" stroke="#30e4f0" stroke-width="1.25"/>
<circle cx="600.75" cy="57.66" r="2.8" fill="none" stroke="#30e4f0" stroke-width="1.25"/>
<circle cx="596.93" cy="60.04" r="2.8" fill="none" stroke="#30e4f0" stroke-width="1.25"/>
<circle cx="593.11" cy="62.42" r="2.8" fill="none" stroke="#30e4f0" stroke-width="1.25"/>
<circle cx="589.29" cy="64.80" r="2.8" fill="none" stroke="#30e4f0" stroke-width="1.25"/>
<circle cx="585.49" cy="67.20" r="2.8" fill="none" stroke="#30e4f0" stroke-width="1.25"/>
<circle cx="581.68" cy="69.60" r="2.8" fill="none" stroke="#30e4f0" stroke-width="1.25"/>
<circle cx="578.24" cy="72.46" r="2.8" fill="none" stroke="#30e4f0" stroke-width="1.25"/>
<circle cx="575.06" cy="75.64" r="2.8" fill="none" stroke="#30e4f0" stroke-width="1.25"/>
<circle cx="571.87" cy="78.82" r="2.8" fill="none" stroke="#30e4f0" stroke-width="1.25"/>
<circle cx="568.67" cy="81.98" r="2.8" fill="none" stroke="#30e4f0" stroke-width="1.25"/>
<circle cx="565.78" cy="85.30" r="2.8" fill="none" stroke="#30e4f0" stroke-width="1.25"/>
<circle cx="564.89" cy="89.72" r="2.8" fill="none" stroke="#30e4f0" stroke-width="1.25"/>
<circle cx="564.00" cy="94.13" r="2.8" fill="none" stroke="#30e4f0" stroke-width="1.25"/>
<circle cx="563.07" cy="98.53" r="2.8" fill="none" stroke="#30e4f0" stroke-width="1.25"/>
<circle cx="562.00" cy="102.90" r="2.8" fill="none" stroke="#30e4f0" stroke-width="1.25"/>
<circle cx="560.93" cy="107.27" r="2.8" fill="none" stroke="#30e4f0" stroke-width="1.25"/>
<circle cx="559.86" cy="111.64" r="2.8" fill="none" stroke="#30e4f0" stroke-width="1.25"/>
<circle cx="558.63" cy="115.97" r="2.8" fill="none" stroke="#30e4f0" stroke-width="1.25"/>
<circle cx="557.33" cy="120.28" r="2.8" fill="none" stroke="#30e4f0" stroke-width="1.25"/>
<circle cx="556.03" cy="124.59" r="2.8" fill="none" stroke="#30e4f0" stroke-width="1.25"/>
<circle cx="553.76" cy="128.40" r="2.8" fill="none" stroke="#30e4f0" stroke-width="1.25"/>
<circle cx="551.07" cy="132.00" r="2.8" fill="none" stroke="#30e4f0" stroke-width="1.25"/>
<circle cx="548.48" cy="135.68" r="2.8" fill="none" stroke="#30e4f0" stroke-width="1.25"/>
<circle cx="545.89" cy="139.36" r="2.8" fill="none" stroke="#30e4f0" stroke-width="1.25"/>
<circle cx="542.11" cy="138.82" r="2.8" fill="none" stroke="#30e4f0" stroke-width="1.25"/>
<circle cx="537.98" cy="137.03" r="2.8" fill="none" stroke="#30e4f0" stroke-width="1.25"/>
<circle cx="534.04" cy="134.88" r="2.8" fill="none" stroke="#30e4f0" stroke-width="1.25"/>
<circle cx="530.24" cy="132.47" r="2.8" fill="none" stroke="#30e4f0" stroke-width="1.25"/>
<circle cx="526.43" cy="130.07" r="2.8" fill="none" stroke="#30e4f0" stroke-width="1.25"/>
<circle cx="522.61" cy="127.70" r="2.8" fill="none" stroke="#30e4f0" stroke-width="1.25"/>
<circle cx="518.79" cy="125.32" r="2.8" fill="none" stroke="#30e4f0" stroke-width="1.25"/>
<circle cx="515.01" cy="122.88" r="2.8" fill="none" stroke="#30e4f0" stroke-width="1.25"/>
<circle cx="511.41" cy="120.19" r="2.8" fill="none" stroke="#30e4f0" stroke-width="1.25"/>
<circle cx="507.80" cy="117.50" r="2.8" fill="none" stroke="#30e4f0" stroke-width="1.25"/>
<circle cx="504.06" cy="115.03" r="2.8" fill="none" stroke="#30e4f0" stroke-width="1.25"/>
<circle cx="500.03" cy="113.02" r="2.8" fill="none" stroke="#30e4f0" stroke-width="1.25"/>
<circle cx="495.87" cy="112.24" r="2.8" fill="none" stroke="#30e4f0" stroke-width="1.25"/>
<polyline points="492.50,35.80 502.80,34.50 517.00,30.10 528.50,35.80 538.90,34.50 549.20,31.90 556.90,28.60 564.60,29.30 569.80,35.80 572.90,48.70 576.20,66.70 578.80,118.20 580.10,129.80 582.70,127.30 605.90,126.00 638.10,126.00" fill="none" stroke="#ee2a7b" stroke-width="1.3" stroke-linejoin="round" stroke-linecap="round" />
<polyline points="529.80,35.80 531.60,60.30 535.00,138.90 546.60,136.30 554.30,133.70 564.60,127.30 580.10,127.30" fill="none" stroke="#ee2a7b" stroke-width="1.3" stroke-linejoin="round" stroke-linecap="round" />
<circle cx="492.50" cy="35.80" r="2.7" fill="none" stroke="#ee2a7b" stroke-width="1.25"/>
<circle cx="496.77" cy="35.26" r="2.7" fill="none" stroke="#ee2a7b" stroke-width="1.25"/>
<circle cx="501.03" cy="34.72" r="2.7" fill="none" stroke="#ee2a7b" stroke-width="1.25"/>
<circle cx="505.21" cy="33.75" r="2.7" fill="none" stroke="#ee2a7b" stroke-width="1.25"/>
<circle cx="509.31" cy="32.48" r="2.7" fill="none" stroke="#ee2a7b" stroke-width="1.25"/>
<circle cx="513.42" cy="31.21" r="2.7" fill="none" stroke="#ee2a7b" stroke-width="1.25"/>
<circle cx="517.49" cy="30.35" r="2.7" fill="none" stroke="#ee2a7b" stroke-width="1.25"/>
<circle cx="521.35" cy="32.25" r="2.7" fill="none" stroke="#ee2a7b" stroke-width="1.25"/>
<circle cx="525.20" cy="34.16" r="2.7" fill="none" stroke="#ee2a7b" stroke-width="1.25"/>
<circle cx="529.11" cy="35.72" r="2.7" fill="none" stroke="#ee2a7b" stroke-width="1.25"/>
<circle cx="533.38" cy="35.19" r="2.7" fill="none" stroke="#ee2a7b" stroke-width="1.25"/>
<circle cx="537.65" cy="34.66" r="2.7" fill="none" stroke="#ee2a7b" stroke-width="1.25"/>
<circle cx="541.84" cy="33.76" r="2.7" fill="none" stroke="#ee2a7b" stroke-width="1.25"/>
<circle cx="546.01" cy="32.70" r="2.7" fill="none" stroke="#ee2a7b" stroke-width="1.25"/>
<circle cx="550.13" cy="31.50" r="2.7" fill="none" stroke="#ee2a7b" stroke-width="1.25"/>
<circle cx="554.08" cy="29.81" r="2.7" fill="none" stroke="#ee2a7b" stroke-width="1.25"/>
<circle cx="558.13" cy="28.71" r="2.7" fill="none" stroke="#ee2a7b" stroke-width="1.25"/>
<circle cx="562.41" cy="29.10" r="2.7" fill="none" stroke="#ee2a7b" stroke-width="1.25"/>
<circle cx="565.91" cy="30.94" r="2.7" fill="none" stroke="#ee2a7b" stroke-width="1.25"/>
<circle cx="568.60" cy="34.30" r="2.7" fill="none" stroke="#ee2a7b" stroke-width="1.25"/>
<circle cx="570.36" cy="38.11" r="2.7" fill="none" stroke="#ee2a7b" stroke-width="1.25"/>
<circle cx="571.36" cy="42.30" r="2.7" fill="none" stroke="#ee2a7b" stroke-width="1.25"/>
<circle cx="572.37" cy="46.48" r="2.7" fill="none" stroke="#ee2a7b" stroke-width="1.25"/>
<circle cx="580.10" cy="129.80" r="2.7" fill="none" stroke="#ee2a7b" stroke-width="1.25"/>
<circle cx="583.39" cy="127.26" r="2.7" fill="none" stroke="#ee2a7b" stroke-width="1.25"/>
<circle cx="587.69" cy="127.02" r="2.7" fill="none" stroke="#ee2a7b" stroke-width="1.25"/>
<circle cx="591.98" cy="126.78" r="2.7" fill="none" stroke="#ee2a7b" stroke-width="1.25"/>
<circle cx="596.27" cy="126.54" r="2.7" fill="none" stroke="#ee2a7b" stroke-width="1.25"/>
<circle cx="600.57" cy="126.30" r="2.7" fill="none" stroke="#ee2a7b" stroke-width="1.25"/>
<circle cx="604.86" cy="126.06" r="2.7" fill="none" stroke="#ee2a7b" stroke-width="1.25"/>
<circle cx="609.16" cy="126.00" r="2.7" fill="none" stroke="#ee2a7b" stroke-width="1.25"/>
<circle cx="613.46" cy="126.00" r="2.7" fill="none" stroke="#ee2a7b" stroke-width="1.25"/>
<circle cx="617.76" cy="126.00" r="2.7" fill="none" stroke="#ee2a7b" stroke-width="1.25"/>
<circle cx="622.06" cy="126.00" r="2.7" fill="none" stroke="#ee2a7b" stroke-width="1.25"/>
<circle cx="626.36" cy="126.00" r="2.7" fill="none" stroke="#ee2a7b" stroke-width="1.25"/>
<circle cx="630.66" cy="126.00" r="2.7" fill="none" stroke="#ee2a7b" stroke-width="1.25"/>
<circle cx="634.96" cy="126.00" r="2.7" fill="none" stroke="#ee2a7b" stroke-width="1.25"/>
<circle cx="535.00" cy="138.90" r="2.7" fill="none" stroke="#ee2a7b" stroke-width="1.25"/>
<circle cx="539.20" cy="137.96" r="2.7" fill="none" stroke="#ee2a7b" stroke-width="1.25"/>
<circle cx="543.39" cy="137.02" r="2.7" fill="none" stroke="#ee2a7b" stroke-width="1.25"/>
<circle cx="547.56" cy="135.98" r="2.7" fill="none" stroke="#ee2a7b" stroke-width="1.25"/>
<circle cx="551.63" cy="134.60" r="2.7" fill="none" stroke="#ee2a7b" stroke-width="1.25"/>
<circle cx="555.56" cy="132.92" r="2.7" fill="none" stroke="#ee2a7b" stroke-width="1.25"/>
<circle cx="559.21" cy="130.65" r="2.7" fill="none" stroke="#ee2a7b" stroke-width="1.25"/>
<circle cx="562.87" cy="128.38" r="2.7" fill="none" stroke="#ee2a7b" stroke-width="1.25"/>
<circle cx="566.86" cy="127.30" r="2.7" fill="none" stroke="#ee2a7b" stroke-width="1.25"/>
<circle cx="571.16" cy="127.30" r="2.7" fill="none" stroke="#ee2a7b" stroke-width="1.25"/>
<circle cx="575.46" cy="127.30" r="2.7" fill="none" stroke="#ee2a7b" stroke-width="1.25"/>
<circle cx="579.76" cy="127.30" r="2.7" fill="none" stroke="#ee2a7b" stroke-width="1.25"/>
<circle cx="531.6" cy="60.3" r="2.7" fill="none" stroke="#ee2a7b" stroke-width="1.3"/>
<circle cx="576.2" cy="66.7" r="2.7" fill="none" stroke="#ee2a7b" stroke-width="1.3"/>
<circle cx="572.9" cy="48.7" r="2.7" fill="none" stroke="#ee2a7b" stroke-width="1.3"/>
<circle cx="578.8" cy="118.2" r="2.7" fill="none" stroke="#ee2a7b" stroke-width="1.3"/>
<text x="445.30" y="12.90" font-size="22" text-anchor="start" font-weight="bold" fill="#000" >c</text>
<clipPath id="cd"><rect x="26.3" y="182.3" width="172.39999999999998" height="171.5"/></clipPath>
<g clip-path="url(#cd)">
<rect x="26.3" y="182.3" width="172.39999999999998" height="171.5" filter="url(#relief)"/>
<clipPath id="cdu"><polygon points="26.30,182.30 112.00,182.30 104.00,198.00 92.00,217.50 72.00,226.00 61.50,228.20 50.90,246.00 45.50,260.10 40.20,274.40 26.30,300.00"/></clipPath>
<g clip-path="url(#cdu)"><g transform="rotate(-63 70 240)"><rect x="-10" y="160" width="160" height="160" filter="url(#relief2)" opacity="0.32"/></g></g>
<polyline points="60.80,182.70 58.80,192.40 52.80,205.40 44.80,222.40 34.80,240.40 27.10,252.40" fill="none" stroke="#3a3a3a" stroke-width="1.0" stroke-linejoin="round" stroke-linecap="round" opacity="0.5"/>
<polyline points="60.00,182.30 58.00,192.00 52.00,205.00 44.00,222.00 34.00,240.00 26.30,252.00" fill="none" stroke="#d8d8d8" stroke-width="0.9" stroke-linejoin="round" stroke-linecap="round" opacity="0.6"/>
<polyline points="75.80,182.70 70.80,195.40 64.80,206.40 57.80,214.40" fill="none" stroke="#3a3a3a" stroke-width="1.0" stroke-linejoin="round" stroke-linecap="round" opacity="0.5"/>
<polyline points="75.00,182.30 70.00,195.00 64.00,206.00 57.00,214.00" fill="none" stroke="#d8d8d8" stroke-width="0.9" stroke-linejoin="round" stroke-linecap="round" opacity="0.6"/>
<polyline points="92.80,182.70 86.80,192.40 80.80,200.40" fill="none" stroke="#3a3a3a" stroke-width="1.0" stroke-linejoin="round" stroke-linecap="round" opacity="0.5"/>
<polyline points="92.00,182.30 86.00,192.00 80.00,200.00" fill="none" stroke="#d8d8d8" stroke-width="0.9" stroke-linejoin="round" stroke-linecap="round" opacity="0.6"/>
<polyline points="43.80,182.70 38.80,195.40 30.80,210.40" fill="none" stroke="#3a3a3a" stroke-width="1.0" stroke-linejoin="round" stroke-linecap="round" opacity="0.5"/>
<polyline points="43.00,182.30 38.00,195.00 30.00,210.00" fill="none" stroke="#d8d8d8" stroke-width="0.9" stroke-linejoin="round" stroke-linecap="round" opacity="0.6"/>
<polyline points="42.00,210.00 43.50,208.60 42.00,214.00 40.50,219.30" fill="none" stroke="#eee" stroke-width="1.3" stroke-linejoin="round" stroke-linecap="round" />
<polyline points="44.50,210.00 45.00,214.00 43.50,219.30" fill="none" stroke="#151515" stroke-width="1.8" stroke-linejoin="round" stroke-linecap="round" />
<polyline points="30.00,224.60 28.00,232.00 26.50,242.00" fill="none" stroke="#151515" stroke-width="1.8" stroke-linejoin="round" stroke-linecap="round" />
<polyline points="85.70,208.60 77.10,214.00 72.90,221.40" fill="none" stroke="#eee" stroke-width="1.2" stroke-linejoin="round" stroke-linecap="round" />
<polyline points="86.70,210.00 78.50,215.50 74.50,222.00" fill="none" stroke="#222" stroke-width="1.3" stroke-linejoin="round" stroke-linecap="round" />
<g filter="url(#blur05)">
<polyline points="118.40,192.70 107.70,205.10 98.80,217.50 93.50,221.00" fill="none" stroke="#0e0e0e" stroke-width="4.4" stroke-linejoin="round" stroke-linecap="round" />
<polyline points="115.00,184.00 113.00,185.60 104.20,198.00 97.00,208.60 91.70,217.50 84.60,219.30" fill="none" stroke="#f6f6f6" stroke-width="2.8" stroke-linejoin="round" stroke-linecap="round" />
<polyline points="86.20,219.90 73.80,227.00 63.10,228.80 57.80,235.90 52.50,246.60 47.10,260.70 41.80,275.00 38.30,282.60" fill="none" stroke="#141414" stroke-width="2.2" stroke-linejoin="round" stroke-linecap="round" opacity="0.9"/>
<polyline points="84.60,219.30 72.20,226.40 61.50,228.20 56.20,235.30 50.90,246.00 45.50,260.10 40.20,274.40 36.70,282.00" fill="none" stroke="#efefef" stroke-width="1.9" stroke-linejoin="round" stroke-linecap="round" />
<polyline points="81.10,223.40 75.80,235.80 74.00,250.00 70.40,258.90" fill="none" stroke="#111" stroke-width="2.4" stroke-linejoin="round" stroke-linecap="round" opacity="0.9"/>
<polyline points="79.30,222.90 74.00,235.30 72.20,249.50 68.60,258.40 59.70,260.10" fill="none" stroke="#f2f2f2" stroke-width="1.4" stroke-linejoin="round" stroke-linecap="round" />
<polygon points="36.70,266.00 44.00,265.50 49.00,272.00 47.00,282.00 38.00,283.00" fill="#0f0f0f" />
<ellipse cx="47.5" cy="272" rx="3.2" ry="4" fill="#f0f0f0"/>
<polyline points="44.00,286.00 36.00,300.00 26.30,314.00" fill="none" stroke="#f4f4f4" stroke-width="1.3" stroke-linejoin="round" stroke-linecap="round" />
<polyline points="45.50,288.00 37.50,302.00 27.30,316.50" fill="none" stroke="#1a1a1a" stroke-width="1.1" stroke-linejoin="round" stroke-linecap="round" />
<polyline points="108.60,182.00 113.00,186.00 118.00,193.00 121.20,195.70 134.90,200.30" fill="none" stroke="#151515" stroke-width="2.6" stroke-linejoin="round" stroke-linecap="round" opacity="0.9"/>
<polygon points="112.00,182.30 121.00,182.30 118.00,188.00 113.00,187.00" fill="#111" />
<polyline points="154.70,185.00 170.00,188.00 180.70,191.20 192.90,197.30 197.50,204.90" fill="none" stroke="#111" stroke-width="2.0" stroke-linejoin="round" stroke-linecap="round" />
<polyline points="154.70,183.50 170.00,186.50 180.70,189.70" fill="none" stroke="#e8e8e8" stroke-width="1.0" stroke-linejoin="round" stroke-linecap="round" />
<polygon points="185.00,193.00 196.00,191.00 198.70,207.00 192.00,208.00 189.00,200.00" fill="#0e0e0e" />
<ellipse cx="188" cy="206" rx="3" ry="2.5" fill="#e8e8e8"/>
<ellipse cx="188.5" cy="207.5" rx="2" ry="1.6" fill="#222"/>
<polyline points="124.50,229.40 130.80,234.00 141.80,243.50 162.10,249.70 180.90,256.00 199.50,259.10" fill="none" stroke="#0d0d0d" stroke-width="3.6" stroke-linejoin="round" stroke-linecap="round" />
<polyline points="124.00,226.80 130.30,231.40 141.30,240.90 161.60,247.10 180.40,253.40 199.00,256.50" fill="none" stroke="#f4f4f4" stroke-width="1.6" stroke-linejoin="round" stroke-linecap="round" />
<polygon points="141.30,229.00 147.60,231.00 147.00,236.80 142.00,236.00" fill="#151515" />
<polygon points="110.00,182.30 122.50,182.30 121.00,192.00 114.00,199.00 110.00,199.00" fill="#111" />
<polyline points="110.00,196.00 119.40,199.00 128.80,204.00 138.00,205.00" fill="none" stroke="#eee" stroke-width="1.3" stroke-linejoin="round" stroke-linecap="round" />
<polygon points="179.00,259.50 190.00,258.50 198.70,259.00 198.70,270.00 185.00,270.00 180.00,266.00" fill="#111" />
<polyline points="182.00,262.00 188.00,265.00 196.00,266.00" fill="none" stroke="#eee" stroke-width="1.0" stroke-linejoin="round" stroke-linecap="round" />
<polyline points="186.00,260.00 190.00,264.00 198.00,266.00" fill="none" stroke="#eee" stroke-width="0.9" stroke-linejoin="round" stroke-linecap="round" />
<ellipse cx="141.5" cy="300.5" rx="4.6" ry="6" fill="#151515"/>
<ellipse cx="145.6" cy="301.5" rx="2.8" ry="5" fill="#f0f0f0"/>
<ellipse cx="144" cy="293.5" rx="2" ry="1.6" fill="#ddd"/>
<polygon points="150.00,338.00 156.00,330.00 162.00,325.50 168.00,323.00 167.50,336.00 158.00,338.00" fill="#0e0e0e" />
<polyline points="140.00,353.00 146.00,347.00 152.00,342.00 158.00,339.50" fill="none" stroke="#f2f2f2" stroke-width="1.8" stroke-linejoin="round" stroke-linecap="round" />
<polyline points="141.00,351.00 148.00,344.00" fill="none" stroke="#111" stroke-width="2.2" stroke-linejoin="round" stroke-linecap="round" />
<ellipse cx="171" cy="330.5" rx="2.4" ry="3" fill="#f4f4f4"/>
<polyline points="164.00,271.00 172.00,275.00 179.00,279.00" fill="none" stroke="#111" stroke-width="1.6" stroke-linejoin="round" stroke-linecap="round" />
<polyline points="164.00,269.50 172.00,273.50" fill="none" stroke="#eee" stroke-width="0.9" stroke-linejoin="round" stroke-linecap="round" />
<polyline points="115.00,336.00 124.00,338.00" fill="none" stroke="#111" stroke-width="1.6" stroke-linejoin="round" stroke-linecap="round" />
<polyline points="150.00,332.00 166.00,330.00 170.00,326.00" fill="none" stroke="#eee" stroke-width="1.0" stroke-linejoin="round" stroke-linecap="round" />
<ellipse cx="120" cy="333" rx="2.5" ry="1.6" fill="#eee"/>
</g>
<polyline points="95.00,232.00 112.00,258.00" fill="none" stroke="#a8a8a8" stroke-width="0.7" stroke-linejoin="round" stroke-linecap="round" opacity="0.6"/>
<polyline points="98.00,234.00 115.00,260.00" fill="none" stroke="#a8a8a8" stroke-width="0.7" stroke-linejoin="round" stroke-linecap="round" opacity="0.6"/>
<polyline points="101.00,236.00 118.00,262.00" fill="none" stroke="#a8a8a8" stroke-width="0.7" stroke-linejoin="round" stroke-linecap="round" opacity="0.6"/>
<polyline points="104.00,238.00 121.00,264.00" fill="none" stroke="#a8a8a8" stroke-width="0.7" stroke-linejoin="round" stroke-linecap="round" opacity="0.6"/>
<polyline points="107.00,240.00 124.00,266.00" fill="none" stroke="#a8a8a8" stroke-width="0.7" stroke-linejoin="round" stroke-linecap="round" opacity="0.6"/>
<polyline points="110.00,242.00 127.00,268.00" fill="none" stroke="#a8a8a8" stroke-width="0.7" stroke-linejoin="round" stroke-linecap="round" opacity="0.6"/>
</g>
<rect x="26.3" y="182.3" width="172.39999999999998" height="171.5" fill="none" stroke="#555" stroke-width="0.7"/>
<line x1="49.20" y1="285.70" x2="170.80" y2="319.80" stroke="#ff2010" stroke-width="3.0" stroke-dasharray="9,3.8" stroke-dashoffset="1.5"/>
<line x1="170.80" y1="319.80" x2="166.70" y2="335.10" stroke="#ff2010" stroke-width="3.0" stroke-dasharray="9,3.8" stroke-dashoffset="1.5"/>
<line x1="46.10" y1="301.50" x2="166.70" y2="335.10" stroke="#ff2010" stroke-width="3.0" stroke-dasharray="9,3.8" stroke-dashoffset="1.5"/>
<line x1="49.20" y1="285.70" x2="46.10" y2="301.50" stroke="#ff2010" stroke-width="3.0" stroke-dasharray="9,3.8" stroke-dashoffset="1.5"/>
<rect x="47.70" y="284.20" width="3" height="3" fill="#ff2010"/>
<rect x="169.30" y="318.30" width="3" height="3" fill="#ff2010"/>
<rect x="165.20" y="333.60" width="3" height="3" fill="#ff2010"/>
<rect x="44.60" y="300.00" width="3" height="3" fill="#ff2010"/>
<line x1="150.20" y1="337.00" x2="188.30" y2="337.00" stroke="#fff" stroke-width="2.2" />
<text x="169.3" y="347.9" font-size="8.3" font-weight="bold" text-anchor="middle" fill="#fff" stroke="#222" stroke-width="1.6" paint-order="stroke">20μm</text>
<clipPath id="ce"><rect x="247.3" y="182.3" width="172.8" height="171.39999999999998"/></clipPath>
<g clip-path="url(#ce)">
<rect x="247.3" y="182.3" width="172.8" height="171.39999999999998" filter="url(#speck)"/>
<clipPath id="ced0"><polygon points="247.00,182.00 296.00,182.00 262.00,270.00 250.00,300.00 247.00,300.00"/></clipPath>
<rect x="247" y="182" width="175" height="173" filter="url(#speck3)" opacity="0.55" clip-path="url(#ced0)"/>
<clipPath id="ced1"><polygon points="247.00,306.00 262.00,303.00 381.00,336.00 372.00,354.00 247.00,354.00"/></clipPath>
<rect x="247" y="182" width="175" height="173" filter="url(#speck3)" opacity="0.55" clip-path="url(#ced1)"/>
<polygon points="295.00,250.00 360.00,238.00 405.00,262.00 412.00,300.00 370.00,318.00 310.00,300.00 288.00,280.00" fill="#dcd830" opacity="0.22"/>
<polygon points="330.00,200.00 380.00,195.00 412.00,215.00 380.00,235.00 340.00,230.00" fill="#dcd830" opacity="0.2"/>
<polyline points="272.40,182.00 249.50,227.70 247.00,233.00" fill="none" stroke="#6a1a8a" stroke-width="1.5" stroke-linejoin="round" stroke-linecap="round" opacity="0.75"/>
<polyline points="297.40,194.20 283.00,228.00 259.20,282.70 248.00,305.00" fill="none" stroke="#5a1a80" stroke-width="1.5" stroke-linejoin="round" stroke-linecap="round" opacity="0.8"/>
<polyline points="300.00,182.00 291.00,204.00" fill="none" stroke="#e06020" stroke-width="1.8" stroke-linejoin="round" stroke-linecap="round" opacity="0.7"/>
<polyline points="334.40,191.20 320.70,207.40 311.80,217.60" fill="none" stroke="#d8702a" stroke-width="5.5" stroke-linejoin="round" stroke-linecap="round" opacity="0.85"/>
<polyline points="335.40,191.20 321.70,207.40 313.00,217.00" fill="none" stroke="#7a1c96" stroke-width="2.6" stroke-linejoin="round" stroke-linecap="round" />
<polygon points="330.80,182.00 343.50,182.00 348.60,192.20 356.20,201.00 348.60,203.60 341.00,197.20 333.40,194.70" fill="#7a1c96" />
<polygon points="326.00,182.00 331.00,182.00 333.00,192.00 328.00,190.00" fill="#d86030" opacity="0.8"/>
<polygon points="404.50,192.50 412.00,193.00 414.60,200.00 411.00,215.00 407.00,207.00" fill="#7a1c96" />
<polyline points="365.70,232.40 368.00,239.00 371.00,240.50 383.50,245.00 399.50,252.00 410.20,260.90 417.30,271.50 421.00,277.00" fill="none" stroke="#7a1c96" stroke-width="3.6" stroke-linejoin="round" stroke-linecap="round" />
<polyline points="366.00,236.50 372.00,243.50 392.00,251.00" fill="none" stroke="#e06020" stroke-width="1.4" stroke-linejoin="round" stroke-linecap="round" opacity="0.8"/>
<polygon points="300.00,288.00 340.00,287.00 380.00,289.00 420.00,288.00 420.00,296.00 390.00,299.00 350.00,298.00 320.00,300.00 300.00,296.00" fill="#e2dc30" opacity="0.35"/>
<polyline points="359.00,298.00 359.50,304.00" fill="none" stroke="#6a1a8a" stroke-width="2.0" stroke-linejoin="round" stroke-linecap="round" />
<polyline points="295.90,247.60 288.00,255.00 282.10,261.40" fill="none" stroke="#c04a70" stroke-width="3.6" stroke-linejoin="round" stroke-linecap="round" />
<polyline points="262.50,294.00 380.00,324.50" fill="none" stroke="#4a1488" stroke-width="2.2" stroke-linejoin="round" stroke-linecap="round" />
<clipPath id="cep"><polygon points="421.00,297.00 405.00,309.00 387.40,321.40 379.80,333.60 372.00,345.00 367.60,354.00 421.00,354.00"/></clipPath>
<polygon points="421.00,297.00 405.00,309.00 387.40,321.40 379.80,333.60 372.00,345.00 367.60,354.00 421.00,354.00" fill="#5a1880" />
<rect x="365" y="295" width="57" height="60" filter="url(#speck2)" opacity="0.45" clip-path="url(#cep)"/>
</g>
<rect x="247.3" y="182.3" width="172.8" height="171.39999999999998" fill="none" stroke="#555" stroke-width="0.7"/>
<line x1="263.20" y1="287.20" x2="385.80" y2="322.90" stroke="#ff2010" stroke-width="3.0" stroke-dasharray="9,3.8" stroke-dashoffset="1.5"/>
<line x1="385.80" y1="322.90" x2="380.70" y2="336.20" stroke="#ff2010" stroke-width="3.0" stroke-dasharray="9,3.8" stroke-dashoffset="1.5"/>
<line x1="260.10" y1="302.50" x2="380.70" y2="336.20" stroke="#ff2010" stroke-width="3.0" stroke-dasharray="9,3.8" stroke-dashoffset="1.5"/>
<line x1="263.20" y1="287.20" x2="260.10" y2="302.50" stroke="#ff2010" stroke-width="3.0" stroke-dasharray="9,3.8" stroke-dashoffset="1.5"/>
<rect x="261.70" y="285.70" width="3" height="3" fill="#ff2010"/>
<rect x="384.30" y="321.40" width="3" height="3" fill="#ff2010"/>
<rect x="379.20" y="334.70" width="3" height="3" fill="#ff2010"/>
<rect x="258.60" y="301.00" width="3" height="3" fill="#ff2010"/>
<line x1="372.20" y1="336.60" x2="408.80" y2="336.60" stroke="#fff" stroke-width="2.2" />
<text x="391.3" y="347.6" font-size="8.3" font-weight="bold" text-anchor="middle" fill="#fff" stroke="#222" stroke-width="1.6" paint-order="stroke">20μm</text>
<clipPath id="cf"><rect x="468.9" y="180.6" width="172.70000000000005" height="171.9"/></clipPath>
<g clip-path="url(#cf)">
<rect x="468.9" y="180.6" width="172.70000000000005" height="171.9" fill="#cbcbcb"/>
<rect x="468.9" y="180.6" width="172.70000000000005" height="171.9" filter="url(#grain2)" opacity="0.35"/>
<circle cx="576.5" cy="308.1" r="0.82" fill="#333" opacity="0.6"/>
<circle cx="631.7" cy="307.8" r="0.87" fill="#333" opacity="0.6"/>
<circle cx="473.9" cy="260.6" r="0.88" fill="#333" opacity="0.6"/>
<circle cx="581.0" cy="335.5" r="0.55" fill="#333" opacity="0.6"/>
<circle cx="549.9" cy="223.0" r="0.72" fill="#333" opacity="0.6"/>
<circle cx="568.0" cy="182.9" r="0.59" fill="#333" opacity="0.6"/>
<circle cx="517.2" cy="338.1" r="0.81" fill="#333" opacity="0.6"/>
<circle cx="496.5" cy="317.6" r="0.56" fill="#333" opacity="0.6"/>
<circle cx="575.5" cy="202.4" r="0.50" fill="#333" opacity="0.6"/>
<circle cx="619.4" cy="216.6" r="0.59" fill="#333" opacity="0.6"/>
<circle cx="638.6" cy="330.6" r="0.62" fill="#333" opacity="0.6"/>
<circle cx="634.9" cy="273.3" r="0.77" fill="#333" opacity="0.6"/>
<circle cx="504.3" cy="342.4" r="0.78" fill="#333" opacity="0.6"/>
<circle cx="635.8" cy="334.2" r="0.62" fill="#333" opacity="0.6"/>
<circle cx="531.3" cy="209.1" r="0.56" fill="#333" opacity="0.6"/>
<circle cx="480.1" cy="232.4" r="0.74" fill="#333" opacity="0.6"/>
<circle cx="469.5" cy="297.1" r="0.64" fill="#333" opacity="0.6"/>
<circle cx="522.4" cy="321.3" r="0.69" fill="#333" opacity="0.6"/>
<circle cx="523.4" cy="263.3" r="0.78" fill="#333" opacity="0.6"/>
<circle cx="478.7" cy="348.2" r="0.51" fill="#333" opacity="0.6"/>
<circle cx="598.4" cy="325.8" r="0.51" fill="#333" opacity="0.6"/>
<circle cx="604.9" cy="243.5" r="0.73" fill="#333" opacity="0.6"/>
<circle cx="470.5" cy="188.6" r="0.57" fill="#333" opacity="0.6"/>
<circle cx="633.9" cy="214.4" r="0.80" fill="#333" opacity="0.6"/>
<circle cx="629.5" cy="342.5" r="0.64" fill="#333" opacity="0.6"/>
<circle cx="530.2" cy="270.8" r="0.81" fill="#333" opacity="0.6"/>
<circle cx="487.6" cy="309.2" r="0.82" fill="#333" opacity="0.6"/>
<circle cx="617.4" cy="186.9" r="0.88" fill="#333" opacity="0.6"/>
<circle cx="484.6" cy="239.2" r="0.74" fill="#333" opacity="0.6"/>
<circle cx="627.5" cy="239.0" r="0.87" fill="#333" opacity="0.6"/>
<circle cx="563.0" cy="234.3" r="0.63" fill="#333" opacity="0.6"/>
<circle cx="499.6" cy="194.0" r="0.56" fill="#333" opacity="0.6"/>
<circle cx="587.9" cy="351.9" r="0.56" fill="#333" opacity="0.6"/>
<circle cx="477.3" cy="350.2" r="0.71" fill="#333" opacity="0.6"/>
<circle cx="539.0" cy="221.4" r="0.74" fill="#333" opacity="0.6"/>
<circle cx="611.6" cy="258.9" r="0.67" fill="#333" opacity="0.6"/>
<circle cx="478.5" cy="338.1" r="0.51" fill="#333" opacity="0.6"/>
<circle cx="554.1" cy="324.7" r="0.55" fill="#333" opacity="0.6"/>
<circle cx="595.3" cy="343.9" r="0.75" fill="#333" opacity="0.6"/>
<circle cx="605.0" cy="198.9" r="0.67" fill="#333" opacity="0.6"/>
<circle cx="494.7" cy="325.8" r="0.62" fill="#333" opacity="0.6"/>
<circle cx="547.2" cy="352.4" r="0.84" fill="#333" opacity="0.6"/>
<circle cx="637.5" cy="258.6" r="0.70" fill="#333" opacity="0.6"/>
<circle cx="594.9" cy="262.9" r="0.62" fill="#333" opacity="0.6"/>
<circle cx="538.6" cy="205.8" r="0.65" fill="#333" opacity="0.6"/>
<circle cx="639.6" cy="345.6" r="0.75" fill="#333" opacity="0.6"/>
<circle cx="555.1" cy="238.8" r="0.54" fill="#333" opacity="0.6"/>
<circle cx="515.9" cy="315.0" r="0.85" fill="#333" opacity="0.6"/>
<circle cx="531.3" cy="315.7" r="0.81" fill="#333" opacity="0.6"/>
<circle cx="588.9" cy="294.7" r="0.80" fill="#333" opacity="0.6"/>
<circle cx="531.7" cy="301.7" r="0.61" fill="#333" opacity="0.6"/>
<circle cx="552.8" cy="312.9" r="0.78" fill="#333" opacity="0.6"/>
<circle cx="519.6" cy="343.1" r="0.76" fill="#333" opacity="0.6"/>
<circle cx="569.2" cy="182.6" r="0.72" fill="#333" opacity="0.6"/>
<circle cx="512.2" cy="296.1" r="0.69" fill="#333" opacity="0.6"/>
<circle cx="609.9" cy="291.9" r="0.82" fill="#333" opacity="0.6"/>
<circle cx="529.0" cy="291.3" r="0.80" fill="#333" opacity="0.6"/>
<circle cx="611.9" cy="240.8" r="0.84" fill="#333" opacity="0.6"/>
<circle cx="619.1" cy="298.9" r="0.89" fill="#333" opacity="0.6"/>
<circle cx="634.1" cy="269.7" r="0.71" fill="#333" opacity="0.6"/>
<circle cx="497.6" cy="324.4" r="0.87" fill="#333" opacity="0.6"/>
<circle cx="551.3" cy="299.5" r="0.79" fill="#333" opacity="0.6"/>
<circle cx="595.0" cy="210.1" r="0.81" fill="#333" opacity="0.6"/>
<circle cx="569.2" cy="295.0" r="0.67" fill="#333" opacity="0.6"/>
<circle cx="576.6" cy="313.8" r="0.75" fill="#333" opacity="0.6"/>
<circle cx="593.3" cy="185.3" r="0.56" fill="#333" opacity="0.6"/>
<circle cx="545.1" cy="292.4" r="0.59" fill="#333" opacity="0.6"/>
<circle cx="587.4" cy="289.0" r="0.52" fill="#333" opacity="0.6"/>
<circle cx="550.3" cy="219.5" r="0.52" fill="#333" opacity="0.6"/>
<circle cx="492.0" cy="235.2" r="0.57" fill="#333" opacity="0.6"/>
<circle cx="502.3" cy="186.7" r="0.69" fill="#333" opacity="0.6"/>
<circle cx="534.6" cy="285.8" r="0.74" fill="#333" opacity="0.6"/>
<circle cx="510.0" cy="335.9" r="0.50" fill="#333" opacity="0.6"/>
<circle cx="538.9" cy="228.5" r="0.66" fill="#333" opacity="0.6"/>
<circle cx="488.8" cy="323.5" r="0.65" fill="#333" opacity="0.6"/>
<circle cx="475.1" cy="286.1" r="0.54" fill="#333" opacity="0.6"/>
<circle cx="563.1" cy="238.9" r="0.73" fill="#333" opacity="0.6"/>
<circle cx="634.4" cy="321.3" r="0.67" fill="#333" opacity="0.6"/>
<circle cx="609.3" cy="291.0" r="0.65" fill="#333" opacity="0.6"/>
<circle cx="493.4" cy="283.0" r="0.73" fill="#333" opacity="0.6"/>
<circle cx="634.2" cy="347.0" r="0.74" fill="#333" opacity="0.6"/>
<circle cx="529.5" cy="334.2" r="0.50" fill="#333" opacity="0.6"/>
<circle cx="487.5" cy="277.9" r="0.75" fill="#333" opacity="0.6"/>
<circle cx="493.2" cy="288.8" r="0.86" fill="#333" opacity="0.6"/>
<circle cx="533.8" cy="254.8" r="0.59" fill="#333" opacity="0.6"/>
<circle cx="519.2" cy="347.8" r="0.65" fill="#333" opacity="0.6"/>
<circle cx="634.9" cy="337.7" r="0.74" fill="#333" opacity="0.6"/>
<circle cx="513.8" cy="349.2" r="0.70" fill="#333" opacity="0.6"/>
<circle cx="540.7" cy="235.5" r="0.89" fill="#333" opacity="0.6"/>
<circle cx="553.8" cy="229.8" r="0.69" fill="#333" opacity="0.6"/>
<circle cx="489.9" cy="287.5" r="0.68" fill="#333" opacity="0.6"/>
<circle cx="519.5" cy="315.0" r="0.83" fill="#333" opacity="0.6"/>
<circle cx="471.2" cy="272.1" r="0.61" fill="#333" opacity="0.6"/>
<circle cx="630.4" cy="315.0" r="0.60" fill="#333" opacity="0.6"/>
<circle cx="515.1" cy="207.2" r="0.90" fill="#333" opacity="0.6"/>
<circle cx="519.5" cy="285.1" r="0.69" fill="#333" opacity="0.6"/>
<circle cx="580.3" cy="284.4" r="0.80" fill="#333" opacity="0.6"/>
<circle cx="489.3" cy="311.3" r="0.62" fill="#333" opacity="0.6"/>
<circle cx="561.0" cy="238.4" r="0.62" fill="#333" opacity="0.6"/>
<circle cx="560.4" cy="260.4" r="0.64" fill="#333" opacity="0.6"/>
<circle cx="597.6" cy="282.2" r="0.51" fill="#333" opacity="0.6"/>
<circle cx="512.5" cy="258.9" r="0.87" fill="#333" opacity="0.6"/>
<circle cx="622.2" cy="274.4" r="0.51" fill="#333" opacity="0.6"/>
<circle cx="603.3" cy="254.1" r="0.73" fill="#333" opacity="0.6"/>
<circle cx="591.2" cy="289.3" r="0.69" fill="#333" opacity="0.6"/>
<circle cx="626.4" cy="246.9" r="0.66" fill="#333" opacity="0.6"/>
<circle cx="616.0" cy="214.4" r="0.62" fill="#333" opacity="0.6"/>
<circle cx="612.2" cy="192.0" r="0.83" fill="#333" opacity="0.6"/>
<circle cx="588.9" cy="255.0" r="0.61" fill="#333" opacity="0.6"/>
<circle cx="603.7" cy="337.1" r="0.56" fill="#333" opacity="0.6"/>
<circle cx="551.5" cy="275.0" r="0.70" fill="#333" opacity="0.6"/>
<circle cx="526.0" cy="207.0" r="0.73" fill="#333" opacity="0.6"/>
<circle cx="609.1" cy="192.4" r="0.59" fill="#333" opacity="0.6"/>
<circle cx="610.4" cy="316.7" r="0.77" fill="#333" opacity="0.6"/>
<circle cx="473.3" cy="304.8" r="0.89" fill="#333" opacity="0.6"/>
<circle cx="641.3" cy="301.1" r="0.52" fill="#333" opacity="0.6"/>
<circle cx="614.3" cy="218.3" r="0.76" fill="#333" opacity="0.6"/>
<circle cx="633.4" cy="303.1" r="0.55" fill="#333" opacity="0.6"/>
<circle cx="519.4" cy="338.4" r="0.56" fill="#333" opacity="0.6"/>
<circle cx="574.4" cy="251.8" r="0.56" fill="#333" opacity="0.6"/>
<circle cx="576.4" cy="188.1" r="0.54" fill="#333" opacity="0.6"/>
<circle cx="534.4" cy="193.0" r="0.52" fill="#333" opacity="0.6"/>
<circle cx="568.2" cy="308.2" r="0.85" fill="#333" opacity="0.6"/>
<circle cx="492.1" cy="254.8" r="0.63" fill="#333" opacity="0.6"/>
<circle cx="572.6" cy="264.8" r="0.88" fill="#333" opacity="0.6"/>
<circle cx="533.5" cy="190.2" r="0.78" fill="#333" opacity="0.6"/>
<circle cx="495.0" cy="289.1" r="0.70" fill="#333" opacity="0.6"/>
<circle cx="626.1" cy="276.0" r="0.75" fill="#333" opacity="0.6"/>
<circle cx="514.4" cy="275.4" r="0.60" fill="#333" opacity="0.6"/>
<circle cx="598.5" cy="269.5" r="0.55" fill="#333" opacity="0.6"/>
<circle cx="509.4" cy="244.4" r="0.79" fill="#333" opacity="0.6"/>
<circle cx="499.9" cy="303.2" r="0.76" fill="#333" opacity="0.6"/>
<circle cx="483.6" cy="295.4" r="0.54" fill="#333" opacity="0.6"/>
<circle cx="490.5" cy="282.7" r="0.60" fill="#333" opacity="0.6"/>
<circle cx="620.3" cy="263.2" r="0.63" fill="#333" opacity="0.6"/>
<circle cx="606.4" cy="185.7" r="0.79" fill="#333" opacity="0.6"/>
<circle cx="478.2" cy="206.5" r="0.88" fill="#333" opacity="0.6"/>
<circle cx="586.5" cy="218.9" r="0.55" fill="#333" opacity="0.6"/>
<circle cx="636.9" cy="294.9" r="0.83" fill="#333" opacity="0.6"/>
<circle cx="493.0" cy="288.0" r="0.64" fill="#333" opacity="0.6"/>
<line x1="504.8" y1="237.9" x2="526.3" y2="237.9" stroke="#fff" stroke-width="0.7" opacity="0.35"/>
<line x1="522.1" y1="246.9" x2="533.1" y2="246.9" stroke="#fff" stroke-width="0.7" opacity="0.35"/>
<line x1="595.8" y1="292.0" x2="621.5" y2="292.0" stroke="#fff" stroke-width="0.7" opacity="0.35"/>
<line x1="535.1" y1="327.0" x2="554.5" y2="327.0" stroke="#fff" stroke-width="0.7" opacity="0.35"/>
<line x1="559.4" y1="279.1" x2="583.7" y2="279.1" stroke="#fff" stroke-width="0.7" opacity="0.35"/>
<line x1="529.3" y1="197.3" x2="538.0" y2="197.3" stroke="#fff" stroke-width="0.7" opacity="0.35"/>
<line x1="499.8" y1="187.4" x2="527.4" y2="187.4" stroke="#fff" stroke-width="0.7" opacity="0.35"/>
<line x1="542.3" y1="311.3" x2="550.4" y2="311.3" stroke="#fff" stroke-width="0.7" opacity="0.35"/>
<line x1="540.7" y1="333.6" x2="562.3" y2="333.6" stroke="#fff" stroke-width="0.7" opacity="0.35"/>
<line x1="534.4" y1="260.6" x2="544.5" y2="260.6" stroke="#fff" stroke-width="0.7" opacity="0.35"/>
<line x1="492.5" y1="207.9" x2="508.8" y2="207.9" stroke="#fff" stroke-width="0.7" opacity="0.35"/>
<line x1="527.8" y1="331.9" x2="539.1" y2="331.9" stroke="#fff" stroke-width="0.7" opacity="0.35"/>
<line x1="507.7" y1="228.3" x2="519.2" y2="228.3" stroke="#fff" stroke-width="0.7" opacity="0.35"/>
<line x1="512.7" y1="221.0" x2="531.3" y2="221.0" stroke="#fff" stroke-width="0.7" opacity="0.35"/>
<line x1="473.8" y1="339.5" x2="489.9" y2="339.5" stroke="#fff" stroke-width="0.7" opacity="0.35"/>
<line x1="612.1" y1="298.8" x2="634.9" y2="298.8" stroke="#fff" stroke-width="0.7" opacity="0.35"/>
<line x1="540.9" y1="343.1" x2="551.5" y2="343.1" stroke="#fff" stroke-width="0.7" opacity="0.35"/>
<line x1="571.0" y1="230.6" x2="593.8" y2="230.6" stroke="#fff" stroke-width="0.7" opacity="0.35"/>
<line x1="580.3" y1="208.7" x2="592.7" y2="208.7" stroke="#fff" stroke-width="0.7" opacity="0.35"/>
<line x1="472.7" y1="220.2" x2="482.4" y2="220.2" stroke="#fff" stroke-width="0.7" opacity="0.35"/>
<line x1="530.1" y1="348.0" x2="546.2" y2="348.0" stroke="#fff" stroke-width="0.7" opacity="0.35"/>
<line x1="516.5" y1="261.1" x2="530.7" y2="261.1" stroke="#fff" stroke-width="0.7" opacity="0.35"/>
<line x1="580.7" y1="304.0" x2="592.3" y2="304.0" stroke="#fff" stroke-width="0.7" opacity="0.35"/>
<line x1="505.6" y1="296.1" x2="534.3" y2="296.1" stroke="#fff" stroke-width="0.7" opacity="0.35"/>
<line x1="567.5" y1="254.6" x2="597.0" y2="254.6" stroke="#fff" stroke-width="0.7" opacity="0.35"/>
<polygon points="468.00,180.00 566.00,180.00 553.50,195.30 544.30,210.50 533.60,219.70 519.90,225.80 518.40,238.00 519.90,245.60 513.80,256.30 506.20,266.00 495.00,280.00 484.00,288.00 478.00,300.00 470.00,318.00 468.00,320.00" fill="#3e3e3e" />
<clipPath id="cfd"><polygon points="468.00,180.00 566.00,180.00 553.50,195.30 544.30,210.50 533.60,219.70 519.90,225.80 518.40,238.00 519.90,245.60 513.80,256.30 506.20,266.00 495.00,280.00 484.00,288.00 478.00,300.00 470.00,318.00 468.00,320.00"/></clipPath>
<rect x="468" y="180" width="100" height="140" filter="url(#grain)" opacity="0.3" clip-path="url(#cfd)"/>
<polyline points="566.00,180.00 553.50,195.30 544.30,210.50 533.60,219.70 519.90,225.80 518.40,238.00 519.90,245.60 513.80,256.30 506.20,266.00 495.00,280.00 484.00,288.00" fill="none" stroke="#141414" stroke-width="8" stroke-linejoin="round" stroke-linecap="round" opacity="0.9" filter="url(#blur2)"/>
<polyline points="494.00,180.00 468.00,236.00" fill="none" stroke="#111" stroke-width="1.3" stroke-linejoin="round" stroke-linecap="round" />
<polyline points="525.50,180.00 503.60,220.00 470.30,279.70 468.00,284.00" fill="none" stroke="#111" stroke-width="1.4" stroke-linejoin="round" stroke-linecap="round" />
<polyline points="531.00,180.00 507.50,222.00 480.20,267.00 472.00,282.00" fill="none" stroke="#151515" stroke-width="1.2" stroke-linejoin="round" stroke-linecap="round" />
<polygon points="565.30,180.00 563.80,187.40 569.80,191.90 578.70,196.40 592.10,199.00 592.10,201.60 577.20,202.30 566.80,200.80 556.00,196.00 549.00,199.40 544.50,212.80 541.00,211.00 548.00,195.00 556.00,186.00" fill="#161616" filter="url(#blur1)"/>
<polygon points="625.60,190.40 630.80,189.20 637.50,193.40 635.80,200.80 634.00,207.50 629.30,202.30 626.40,196.40" fill="#0c0c0c" filter="url(#blur1)"/>
<circle cx="630.5" cy="214.5" r="3.2" fill="#151515" filter="url(#blur1)"/>
<polyline points="583.20,209.80 589.10,214.20" fill="none" stroke="#222" stroke-width="1.3" stroke-linejoin="round" stroke-linecap="round" />
<polyline points="613.00,202.30 617.40,205.30" fill="none" stroke="#222" stroke-width="1.3" stroke-linejoin="round" stroke-linecap="round" />
<polygon points="569.80,229.10 578.70,230.20 589.10,229.10 592.10,233.20 599.60,238.60 614.40,244.50 629.30,250.50 642.00,254.50 642.00,259.50 629.30,255.00 614.40,250.50 602.50,246.00 589.10,240.00 583.20,235.60 572.80,234.00" fill="#0a0a0a" filter="url(#blur1)"/>
<polygon points="592.50,232.20 600.00,235.60 610.00,240.00 614.40,242.80 600.00,238.50 593.00,235.00" fill="#f4f4f4" filter="url(#blur1)"/>
<polygon points="642.00,295.40 623.00,306.20 610.60,318.60 606.00,330.80 585.90,338.50 578.20,353.00 642.00,353.00" fill="#7a7a7a" />
<clipPath id="cfb"><polygon points="642.00,295.40 623.00,306.20 610.60,318.60 606.00,330.80 585.90,338.50 578.20,353.00 642.00,353.00"/></clipPath>
<rect x="575" y="294" width="68" height="60" filter="url(#grain)" opacity="0.3" clip-path="url(#cfb)"/>
<ellipse cx="585" cy="299" rx="4.3" ry="5.3" fill="#1a1a1a"/>
<ellipse cx="588" cy="300" rx="2.4" ry="3.8" fill="#777"/>
<polyline points="480.00,291.20 610.00,324.20" fill="none" stroke="#111" stroke-width="1.8" stroke-linejoin="round" stroke-linecap="round" />
<polyline points="480.00,293.60 610.00,326.60" fill="none" stroke="#444" stroke-width="1" stroke-linejoin="round" stroke-linecap="round" />
<ellipse cx="561.5" cy="335" rx="4.5" ry="2.6" fill="#222" filter="url(#blur1)"/>
<ellipse cx="613" cy="326" rx="4" ry="3.5" fill="#111"/>
</g>
<rect x="468.9" y="180.6" width="172.70000000000005" height="171.9" fill="none" stroke="#555" stroke-width="0.7"/>
<line x1="484.20" y1="285.70" x2="605.80" y2="320.90" stroke="#ff2010" stroke-width="3.0" stroke-dasharray="9,3.8" stroke-dashoffset="1.5"/>
<line x1="605.80" y1="320.90" x2="601.70" y2="334.80" stroke="#ff2010" stroke-width="3.0" stroke-dasharray="9,3.8" stroke-dashoffset="1.5"/>
<line x1="480.70" y1="300.40" x2="601.70" y2="334.80" stroke="#ff2010" stroke-width="3.0" stroke-dasharray="9,3.8" stroke-dashoffset="1.5"/>
<line x1="484.20" y1="285.70" x2="480.70" y2="300.40" stroke="#ff2010" stroke-width="3.0" stroke-dasharray="9,3.8" stroke-dashoffset="1.5"/>
<rect x="482.70" y="284.20" width="3" height="3" fill="#ff2010"/>
<rect x="604.30" y="319.40" width="3" height="3" fill="#ff2010"/>
<rect x="600.20" y="333.30" width="3" height="3" fill="#ff2010"/>
<rect x="479.20" y="298.90" width="3" height="3" fill="#ff2010"/>
<line x1="594.00" y1="335.40" x2="630.90" y2="335.40" stroke="#fff" stroke-width="2.2" />
<text x="612.5" y="346.3" font-size="8.3" font-weight="bold" text-anchor="middle" fill="#fff" stroke="#222" stroke-width="1.6" paint-order="stroke">20μm</text>
<rect x="203.5" y="205" width="23.30000000000001" height="144.3" fill="url(#cbD)" stroke="#a8a8a8" stroke-width="0.8"/>
<text x="215.15" y="200.30" font-size="11.2" text-anchor="middle" font-weight="bold" fill="#000" >nm</text>
<text x="215.15" y="214.60" font-size="10.8" text-anchor="middle" font-weight="bold" fill="#111" >29.3</text>
<text x="215.15" y="279.90" font-size="10.8" text-anchor="middle" font-weight="bold" fill="#fff" >2.82</text>
<text x="215.15" y="345.60" font-size="10.8" text-anchor="middle" font-weight="bold" fill="#fff" >-23.7</text>
<rect x="425.2" y="204.9" width="23.100000000000023" height="144.4" fill="url(#cbE)" stroke="#a8a8a8" stroke-width="0.8"/>
<text x="436.75" y="214.60" font-size="10.8" text-anchor="middle" font-weight="bold" fill="#111" >265°</text>
<text x="436.75" y="279.90" font-size="10.8" text-anchor="middle" font-weight="bold" fill="#fff4f0" >120°</text>
<text x="436.75" y="345.60" font-size="10.8" text-anchor="middle" font-weight="bold" fill="#fff" >-25°</text>
<rect x="646.6" y="203.3" width="23.199999999999932" height="144.2" fill="url(#cbF)" stroke="#a8a8a8" stroke-width="0.8"/>
<text x="658.20" y="198.40" font-size="11.2" text-anchor="middle" font-weight="bold" fill="#000" >pm</text>
<text x="658.20" y="213.00" font-size="10.8" text-anchor="middle" font-weight="bold" fill="#111" >465</text>
<text x="658.20" y="278.30" font-size="10.8" text-anchor="middle" font-weight="bold" fill="#fff" >250</text>
<text x="658.20" y="344.00" font-size="10.8" text-anchor="middle" font-weight="bold" fill="#fff" >35.0</text>
<text x="2.40" y="191.00" font-size="22" text-anchor="start" font-weight="bold" fill="#000" >d</text>
<text x="230.60" y="190.50" font-size="22" text-anchor="start" font-weight="bold" fill="#000" >e</text>
<text x="451.60" y="190.80" font-size="22" text-anchor="start" font-weight="bold" fill="#000" >f</text>
<rect x="46.0" y="373.6" width="615.0" height="168.69999999999993" fill="url(#gbg)"/>
<rect x="51.70" y="499.28" width="13.2" height="43.02" fill="url(#gOl)"/>
<text x="58.30" y="496.98" font-size="10.4" text-anchor="middle" font-weight="bold" fill="#111" >5.1</text>
<line x1="58.30" y1="542.30" x2="58.30" y2="546.30" stroke="#000" stroke-width="1.2" />
<text x="58.30" y="558.70" font-size="11.5" text-anchor="middle" font-weight="bold" fill="#111" >11</text>
<rect x="70.02" y="498.44" width="13.2" height="43.86" fill="url(#gOl)"/>
<text x="76.62" y="496.14" font-size="10.4" text-anchor="middle" font-weight="bold" fill="#111" >5.2</text>
<line x1="76.62" y1="542.30" x2="76.62" y2="546.30" stroke="#000" stroke-width="1.2" />
<text x="76.62" y="558.70" font-size="11.5" text-anchor="middle" font-weight="bold" fill="#111" >12</text>
<rect x="88.34" y="487.47" width="13.2" height="54.83" fill="url(#gOl)"/>
<text x="94.94" y="485.17" font-size="10.4" text-anchor="middle" font-weight="bold" fill="#111" >6.5</text>
<line x1="94.94" y1="542.30" x2="94.94" y2="546.30" stroke="#000" stroke-width="1.2" />
<text x="94.94" y="558.70" font-size="11.5" text-anchor="middle" font-weight="bold" fill="#111" >13</text>
<rect x="106.66" y="484.94" width="13.2" height="57.36" fill="url(#gOl)"/>
<text x="113.26" y="482.64" font-size="10.4" text-anchor="middle" font-weight="bold" fill="#111" >6.8</text>
<line x1="113.26" y1="542.30" x2="113.26" y2="546.30" stroke="#000" stroke-width="1.2" />
<text x="113.26" y="558.70" font-size="11.5" text-anchor="middle" font-weight="bold" fill="#111" >14</text>
<rect x="124.98" y="479.04" width="13.2" height="63.26" fill="url(#gOl)"/>
<text x="131.58" y="476.74" font-size="10.4" text-anchor="middle" font-weight="bold" fill="#111" >7.5</text>
<line x1="131.58" y1="542.30" x2="131.58" y2="546.30" stroke="#000" stroke-width="1.2" />
<text x="131.58" y="558.70" font-size="11.5" text-anchor="middle" font-weight="bold" fill="#111" >15</text>
<rect x="143.30" y="470.60" width="13.2" height="71.70" fill="url(#gOl)"/>
<text x="149.90" y="468.30" font-size="10.4" text-anchor="middle" font-weight="bold" fill="#111" >8.5</text>
<line x1="149.90" y1="542.30" x2="149.90" y2="546.30" stroke="#000" stroke-width="1.2" />
<text x="149.90" y="558.70" font-size="11.5" text-anchor="middle" font-weight="bold" fill="#111" >15</text>
<rect x="161.62" y="461.32" width="13.2" height="80.98" fill="url(#gOl)"/>
<text x="168.22" y="459.02" font-size="10.4" text-anchor="middle" font-weight="bold" fill="#111" >9.6</text>
<line x1="168.22" y1="542.30" x2="168.22" y2="546.30" stroke="#000" stroke-width="1.2" />
<text x="168.22" y="558.70" font-size="11.5" text-anchor="middle" font-weight="bold" fill="#111" >16</text>
<rect x="179.94" y="459.64" width="13.2" height="82.66" fill="url(#gOl)"/>
<text x="186.54" y="457.34" font-size="10.4" text-anchor="middle" font-weight="bold" fill="#111" >9.8</text>
<line x1="186.54" y1="542.30" x2="186.54" y2="546.30" stroke="#000" stroke-width="1.2" />
<text x="186.54" y="558.70" font-size="11.5" text-anchor="middle" font-weight="bold" fill="#111" >17</text>
<rect x="198.26" y="457.95" width="13.2" height="84.35" fill="url(#gOl)"/>
<text x="204.86" y="455.65" font-size="10.4" text-anchor="middle" font-weight="bold" fill="#111" >10</text>
<line x1="204.86" y1="542.30" x2="204.86" y2="546.30" stroke="#000" stroke-width="1.2" />
<text x="204.86" y="558.70" font-size="11.5" text-anchor="middle" font-weight="bold" fill="#111" >18</text>
<rect x="216.58" y="453.73" width="13.2" height="88.57" fill="url(#gOl)"/>
<text x="223.18" y="451.43" font-size="10.4" text-anchor="middle" font-weight="bold" fill="#111" >10.5</text>
<line x1="223.18" y1="542.30" x2="223.18" y2="546.30" stroke="#000" stroke-width="1.2" />
<text x="223.18" y="558.70" font-size="11.5" text-anchor="middle" font-weight="bold" fill="#111" >19</text>
<rect x="234.90" y="443.10" width="13.2" height="99.20" fill="url(#gOl)"/>
<text x="241.50" y="440.80" font-size="10.4" text-anchor="middle" font-weight="bold" fill="#111" >11.76</text>
<line x1="241.50" y1="542.30" x2="241.50" y2="546.30" stroke="#000" stroke-width="1.2" />
<text x="241.50" y="558.70" font-size="11.5" text-anchor="middle" font-weight="bold" fill="#111" >20</text>
<rect x="253.22" y="432.64" width="13.2" height="109.65" fill="url(#gOl)"/>
<text x="259.82" y="430.34" font-size="10.4" text-anchor="middle" font-weight="bold" fill="#111" >13</text>
<line x1="259.82" y1="542.30" x2="259.82" y2="546.30" stroke="#000" stroke-width="1.2" />
<text x="259.82" y="558.70" font-size="11.5" text-anchor="middle" font-weight="bold" fill="#111" >21</text>
<rect x="282.20" y="533.87" width="13.2" height="8.43" fill="url(#gMi)"/>
<text x="288.80" y="531.57" font-size="10.4" text-anchor="middle" font-weight="bold" fill="#111" >1</text>
<line x1="288.80" y1="542.30" x2="288.80" y2="546.30" stroke="#000" stroke-width="1.2" />
<text x="288.80" y="558.70" font-size="11.5" text-anchor="middle" font-weight="bold" fill="#111" >22</text>
<rect x="300.52" y="533.02" width="13.2" height="9.28" fill="url(#gMi)"/>
<text x="307.12" y="530.72" font-size="10.4" text-anchor="middle" font-weight="bold" fill="#111" >1.1</text>
<line x1="307.12" y1="542.30" x2="307.12" y2="546.30" stroke="#000" stroke-width="1.2" />
<text x="307.12" y="558.70" font-size="11.5" text-anchor="middle" font-weight="bold" fill="#111" >23</text>
<rect x="318.84" y="512.78" width="13.2" height="29.52" fill="url(#gMi)"/>
<text x="325.44" y="510.48" font-size="10.4" text-anchor="middle" font-weight="bold" fill="#111" >3.5</text>
<line x1="325.44" y1="542.30" x2="325.44" y2="546.30" stroke="#000" stroke-width="1.2" />
<text x="325.44" y="558.70" font-size="11.5" text-anchor="middle" font-weight="bold" fill="#111" >24</text>
<rect x="337.16" y="511.09" width="13.2" height="31.21" fill="url(#gMi)"/>
<text x="343.76" y="508.79" font-size="10.4" text-anchor="middle" font-weight="bold" fill="#111" >3.7</text>
<line x1="343.76" y1="542.30" x2="343.76" y2="546.30" stroke="#000" stroke-width="1.2" />
<text x="343.76" y="558.70" font-size="11.5" text-anchor="middle" font-weight="bold" fill="#111" >25</text>
<rect x="355.48" y="506.87" width="13.2" height="35.43" fill="url(#gMi)"/>
<text x="362.08" y="504.57" font-size="10.4" text-anchor="middle" font-weight="bold" fill="#111" >4.2</text>
<line x1="362.08" y1="542.30" x2="362.08" y2="546.30" stroke="#000" stroke-width="1.2" />
<text x="362.08" y="558.70" font-size="11.5" text-anchor="middle" font-weight="bold" fill="#111" >26</text>
<rect x="373.80" y="504.34" width="13.2" height="37.96" fill="url(#gMi)"/>
<text x="380.40" y="502.04" font-size="10.4" text-anchor="middle" font-weight="bold" fill="#111" >4.5</text>
<line x1="380.40" y1="542.30" x2="380.40" y2="546.30" stroke="#000" stroke-width="1.2" />
<text x="380.40" y="558.70" font-size="11.5" text-anchor="middle" font-weight="bold" fill="#111" >27</text>
<rect x="392.12" y="500.12" width="13.2" height="42.17" fill="url(#gMi)"/>
<text x="398.72" y="497.82" font-size="10.4" text-anchor="middle" font-weight="bold" fill="#111" >5</text>
<line x1="398.72" y1="542.30" x2="398.72" y2="546.30" stroke="#000" stroke-width="1.2" />
<text x="398.72" y="558.70" font-size="11.5" text-anchor="middle" font-weight="bold" fill="#111" >28</text>
<rect x="410.44" y="500.12" width="13.2" height="42.17" fill="url(#gMi)"/>
<text x="417.04" y="497.82" font-size="10.4" text-anchor="middle" font-weight="bold" fill="#111" >5</text>
<line x1="417.04" y1="542.30" x2="417.04" y2="546.30" stroke="#000" stroke-width="1.2" />
<text x="417.04" y="558.70" font-size="11.5" text-anchor="middle" font-weight="bold" fill="#111" >29</text>
<rect x="428.76" y="498.44" width="13.2" height="43.86" fill="url(#gMi)"/>
<text x="435.36" y="496.14" font-size="10.4" text-anchor="middle" font-weight="bold" fill="#111" >5.2</text>
<line x1="435.36" y1="542.30" x2="435.36" y2="546.30" stroke="#000" stroke-width="1.2" />
<text x="435.36" y="558.70" font-size="11.5" text-anchor="middle" font-weight="bold" fill="#111" >30</text>
<rect x="447.08" y="497.17" width="13.2" height="45.13" fill="url(#gMi)"/>
<text x="453.68" y="494.87" font-size="10.4" text-anchor="middle" font-weight="bold" fill="#111" >5.35</text>
<line x1="453.68" y1="542.30" x2="453.68" y2="546.30" stroke="#000" stroke-width="1.2" />
<text x="453.68" y="558.70" font-size="11.5" text-anchor="middle" font-weight="bold" fill="#111" >31</text>
<rect x="465.40" y="457.95" width="13.2" height="84.35" fill="url(#gMi)"/>
<text x="472.00" y="455.65" font-size="10.4" text-anchor="middle" font-weight="bold" fill="#111" >10</text>
<line x1="472.00" y1="542.30" x2="472.00" y2="546.30" stroke="#000" stroke-width="1.2" />
<text x="472.00" y="558.70" font-size="11.5" text-anchor="middle" font-weight="bold" fill="#111" >32</text>
<rect x="483.72" y="410.71" width="13.2" height="131.59" fill="url(#gMi)"/>
<text x="490.32" y="408.41" font-size="10.4" text-anchor="middle" font-weight="bold" fill="#111" >15.6</text>
<line x1="490.32" y1="542.30" x2="490.32" y2="546.30" stroke="#000" stroke-width="1.2" />
<text x="490.32" y="558.70" font-size="11.5" text-anchor="middle" font-weight="bold" fill="#111" >33</text>
<rect x="522.70" y="539.85" width="13.2" height="2.45" fill="url(#gBl)"/>
<text x="529.30" y="537.55" font-size="10.4" text-anchor="middle" font-weight="bold" fill="#111" >0.29</text>
<line x1="529.30" y1="542.30" x2="529.30" y2="546.30" stroke="#000" stroke-width="1.2" />
<text x="529.30" y="558.70" font-size="11.5" text-anchor="middle" font-weight="bold" fill="#111" >34</text>
<rect x="541.02" y="533.87" width="13.2" height="8.43" fill="url(#gBl)"/>
<text x="547.62" y="531.57" font-size="10.4" text-anchor="middle" font-weight="bold" fill="#111" >1</text>
<line x1="547.62" y1="542.30" x2="547.62" y2="546.30" stroke="#000" stroke-width="1.2" />
<text x="547.62" y="558.70" font-size="11.5" text-anchor="middle" font-weight="bold" fill="#111" >35</text>
<rect x="559.34" y="524.59" width="13.2" height="17.71" fill="url(#gBl)"/>
<text x="565.94" y="522.29" font-size="10.4" text-anchor="middle" font-weight="bold" fill="#111" >2.1</text>
<line x1="565.94" y1="542.30" x2="565.94" y2="546.30" stroke="#000" stroke-width="1.2" />
<text x="565.94" y="558.70" font-size="11.5" text-anchor="middle" font-weight="bold" fill="#111" >36</text>
<rect x="577.66" y="498.44" width="13.2" height="43.86" fill="url(#gBl)"/>
<text x="584.26" y="496.14" font-size="10.4" text-anchor="middle" font-weight="bold" fill="#111" >5.2</text>
<line x1="584.26" y1="542.30" x2="584.26" y2="546.30" stroke="#000" stroke-width="1.2" />
<text x="584.26" y="558.70" font-size="11.5" text-anchor="middle" font-weight="bold" fill="#111" >37</text>
<rect x="595.98" y="424.55" width="13.2" height="117.75" fill="url(#gBl)"/>
<text x="602.58" y="422.25" font-size="10.4" text-anchor="middle" font-weight="bold" fill="#111" >13.96</text>
<line x1="602.58" y1="542.30" x2="602.58" y2="546.30" stroke="#000" stroke-width="1.2" />
<text x="602.58" y="558.70" font-size="11.5" text-anchor="middle" font-weight="bold" fill="#111" >38</text>
<rect x="632.20" y="408.61" width="12.8" height="133.69" fill="url(#gPk)"/>
<text x="638.60" y="407.00" font-size="10.3" text-anchor="middle" font-weight="bold" fill="#ff40be" >15.85</text>
<line x1="638.60" y1="542.30" x2="638.60" y2="546.30" stroke="#000" stroke-width="1.2" />
<text x="642.50" y="558.70" font-size="12" text-anchor="middle" font-weight="bold" fill="#ff40be" >This work</text>
<polygon points="638.40,377.90 640.93,384.12 647.63,384.60 642.49,388.93 644.10,395.45 638.40,391.90 632.70,395.45 634.31,388.93 629.17,384.60 635.87,384.12" fill="#eef03c" stroke="#14285a" stroke-width="1.6" stroke-linejoin="miter"/>
<rect x="46.0" y="373.6" width="615.0" height="168.69999999999993" fill="none" stroke="#000" stroke-width="1.3"/>
<line x1="40.50" y1="542.30" x2="46.00" y2="542.30" stroke="#000" stroke-width="1.3" />
<text x="36.00" y="546.70" font-size="12.5" text-anchor="end" font-weight="bold" fill="#111" >0</text>
<line x1="40.50" y1="500.12" x2="46.00" y2="500.12" stroke="#000" stroke-width="1.3" />
<text x="36.00" y="504.52" font-size="12.5" text-anchor="end" font-weight="bold" fill="#111" >5</text>
<line x1="40.50" y1="457.95" x2="46.00" y2="457.95" stroke="#000" stroke-width="1.3" />
<text x="36.00" y="462.35" font-size="12.5" text-anchor="end" font-weight="bold" fill="#111" >10</text>
<line x1="40.50" y1="415.77" x2="46.00" y2="415.77" stroke="#000" stroke-width="1.3" />
<text x="36.00" y="420.17" font-size="12.5" text-anchor="end" font-weight="bold" fill="#111" >15</text>
<line x1="40.50" y1="373.60" x2="46.00" y2="373.60" stroke="#000" stroke-width="1.3" />
<text x="36.00" y="378.00" font-size="12.5" text-anchor="end" font-weight="bold" fill="#111" >20</text>
<line x1="43.00" y1="521.21" x2="46.00" y2="521.21" stroke="#000" stroke-width="1.1" />
<line x1="43.00" y1="479.04" x2="46.00" y2="479.04" stroke="#000" stroke-width="1.1" />
<line x1="43.00" y1="436.86" x2="46.00" y2="436.86" stroke="#000" stroke-width="1.1" />
<line x1="43.00" y1="394.69" x2="46.00" y2="394.69" stroke="#000" stroke-width="1.1" />
<text x="4.80" y="558.70" font-size="11.3" text-anchor="start" font-weight="bold" fill="#111" >Ref.(SI)</text>
<text transform="translate(17.20,458.30) rotate(-90)" font-size="12.3" font-weight="bold" text-anchor="middle" fill="#111" >Polarization (μC/cm<tspan font-size="8" dy="-4.6">2</tspan><tspan dy="4.6">)</tspan></text>
<rect x="48.0" y="376.20" width="20.8" height="10.2" fill="url(#gOlL)"/>
<text x="71.40" y="384.10" font-size="9.4" text-anchor="start" font-weight="normal" fill="#111" >2 equivalent polariztion axes</text>
<rect x="48.0" y="387.65" width="20.8" height="10.2" fill="url(#gMiL)"/>
<text x="71.40" y="395.55" font-size="9.4" text-anchor="start" font-weight="normal" fill="#111" >4 equivalent polariztion axes</text>
<rect x="48.0" y="399.10" width="20.8" height="10.2" fill="url(#gBlL)"/>
<text x="71.40" y="407.00" font-size="9.4" text-anchor="start" font-weight="normal" fill="#111" >8 equivalent polariztion axes</text>
<rect x="48.0" y="410.55" width="20.8" height="10.2" fill="url(#gPkL)"/>
<text x="71.40" y="418.45" font-size="9.4" text-anchor="start" font-weight="normal" fill="#111" >8 equivalent polariztion axes</text>
<text x="2.60" y="375.80" font-size="22" text-anchor="start" font-weight="bold" fill="#000" >g</text>
</svg>
</body></html>
